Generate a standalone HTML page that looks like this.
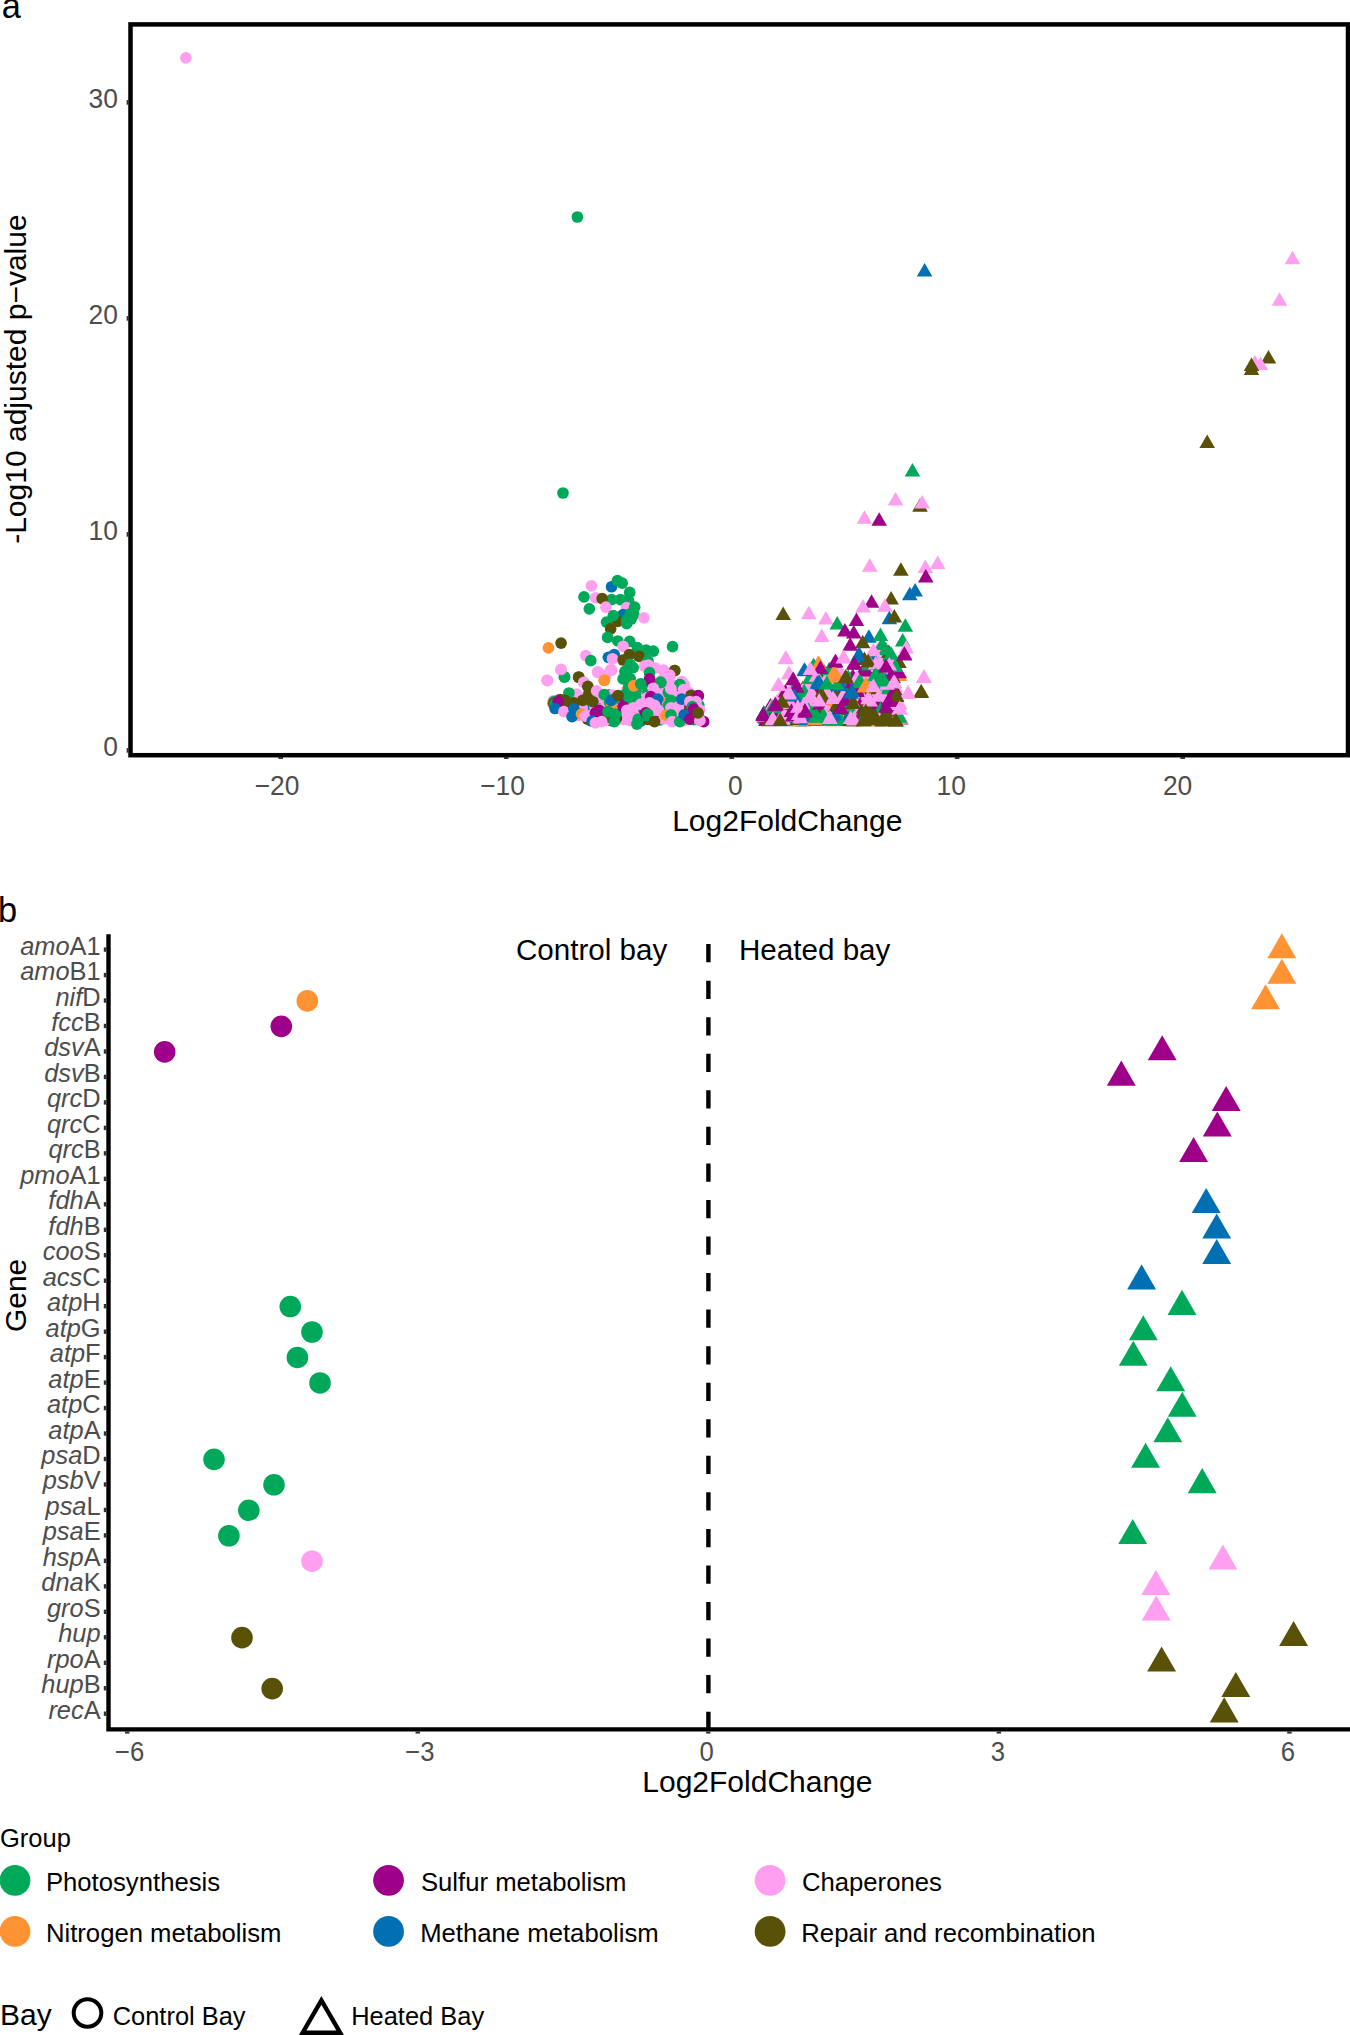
<!DOCTYPE html>
<html lang="en"><head><meta charset="utf-8"><title>Figure</title>
<style>
html,body{margin:0;padding:0;background:#fff;}
body{width:1350px;height:2035px;overflow:hidden;}
svg{display:block;font-family:"Liberation Sans",sans-serif;fill:#000;}
</style></head><body>
<svg width="1350" height="2035" viewBox="0 0 1350 2035">
<rect width="1350" height="2035" fill="#fff"/>
<g id="panel-a">
<g id="pts-a">
<circle cx="601.25" cy="718.77" r="5.85" fill="#FF9FEF"/>
<circle cx="632.85" cy="713.89" r="5.85" fill="#00A85A"/>
<circle cx="558.59" cy="704.92" r="5.85" fill="#FF9FEF"/>
<circle cx="616.25" cy="704.18" r="5.85" fill="#FF9FEF"/>
<circle cx="646.49" cy="690.21" r="5.85" fill="#FF9FEF"/>
<circle cx="698.46" cy="720.06" r="5.85" fill="#FF9FEF"/>
<circle cx="574.49" cy="712.79" r="5.85" fill="#9E0089"/>
<circle cx="579.93" cy="708.59" r="5.85" fill="#FF9FEF"/>
<circle cx="634.61" cy="719.87" r="5.85" fill="#FF9FEF"/>
<circle cx="654.38" cy="710.58" r="5.85" fill="#00A85A"/>
<circle cx="620.52" cy="712.33" r="5.85" fill="#00A85A"/>
<circle cx="589.37" cy="710.77" r="5.85" fill="#9E0089"/>
<circle cx="661.69" cy="709.19" r="5.85" fill="#FF9FEF"/>
<circle cx="615.3" cy="706.57" r="5.85" fill="#00A85A"/>
<circle cx="558.84" cy="701.57" r="5.85" fill="#00A85A"/>
<circle cx="683.45" cy="714.01" r="5.85" fill="#00A85A"/>
<circle cx="639.4" cy="704.79" r="5.85" fill="#0070B2"/>
<circle cx="623.64" cy="707.74" r="5.85" fill="#5A5108"/>
<circle cx="649.42" cy="682.22" r="5.85" fill="#FF9FEF"/>
<circle cx="610.48" cy="708.97" r="5.85" fill="#00A85A"/>
<circle cx="578.04" cy="714.19" r="5.85" fill="#5A5108"/>
<circle cx="572.27" cy="710.69" r="5.85" fill="#9E0089"/>
<circle cx="565.01" cy="706.58" r="5.85" fill="#9E0089"/>
<circle cx="675.07" cy="693.83" r="5.85" fill="#FF9FEF"/>
<circle cx="606.46" cy="697.13" r="5.85" fill="#FF9FEF"/>
<circle cx="579.26" cy="713.32" r="5.85" fill="#00A85A"/>
<circle cx="640.78" cy="715.65" r="5.85" fill="#FF9FEF"/>
<circle cx="608.02" cy="705.71" r="5.85" fill="#00A85A"/>
<circle cx="629.81" cy="708.1" r="5.85" fill="#FF9FEF"/>
<circle cx="687.03" cy="692.51" r="5.85" fill="#5A5108"/>
<circle cx="611.46" cy="714.63" r="5.85" fill="#00A85A"/>
<circle cx="562.27" cy="708.27" r="5.85" fill="#FF9FEF"/>
<circle cx="603.67" cy="720.24" r="5.85" fill="#FF9FEF"/>
<circle cx="568.12" cy="708.24" r="5.85" fill="#9E0089"/>
<circle cx="644.5" cy="717.97" r="5.85" fill="#FF9FEF"/>
<circle cx="607.26" cy="717.68" r="5.85" fill="#FF9232"/>
<circle cx="622.43" cy="712.25" r="5.85" fill="#FF9FEF"/>
<circle cx="604.05" cy="713.85" r="5.85" fill="#FF9FEF"/>
<circle cx="556.44" cy="700.42" r="5.85" fill="#FF9FEF"/>
<circle cx="633.93" cy="720.52" r="5.85" fill="#FF9232"/>
<circle cx="681.64" cy="702.17" r="5.85" fill="#FF9FEF"/>
<circle cx="577.89" cy="704.7" r="5.85" fill="#5A5108"/>
<circle cx="602.12" cy="714.98" r="5.85" fill="#FF9232"/>
<circle cx="680.04" cy="687.97" r="5.85" fill="#5A5108"/>
<circle cx="586.78" cy="711.3" r="5.85" fill="#FF9FEF"/>
<circle cx="557.16" cy="705.27" r="5.85" fill="#00A85A"/>
<circle cx="695.52" cy="711.11" r="5.85" fill="#FF9232"/>
<circle cx="695.3" cy="716.26" r="5.85" fill="#FF9FEF"/>
<circle cx="582.31" cy="714.77" r="5.85" fill="#9E0089"/>
<circle cx="678.22" cy="709.01" r="5.85" fill="#5A5108"/>
<circle cx="565.63" cy="701.95" r="5.85" fill="#5A5108"/>
<circle cx="664.77" cy="709.05" r="5.85" fill="#5A5108"/>
<circle cx="602.55" cy="699.38" r="5.85" fill="#FF9FEF"/>
<circle cx="612.81" cy="699.19" r="5.85" fill="#FF9FEF"/>
<circle cx="571.93" cy="710.38" r="5.85" fill="#9E0089"/>
<circle cx="574.78" cy="699.45" r="5.85" fill="#00A85A"/>
<circle cx="605.21" cy="711.7" r="5.85" fill="#FF9FEF"/>
<circle cx="697.66" cy="712.1" r="5.85" fill="#0070B2"/>
<circle cx="617.64" cy="696.66" r="5.85" fill="#FF9FEF"/>
<circle cx="590.52" cy="716.32" r="5.85" fill="#00A85A"/>
<circle cx="591.65" cy="714.26" r="5.85" fill="#0070B2"/>
<circle cx="605.71" cy="713.52" r="5.85" fill="#9E0089"/>
<circle cx="615.67" cy="700.61" r="5.85" fill="#00A85A"/>
<circle cx="631" cy="720.68" r="5.85" fill="#FF9FEF"/>
<circle cx="553.59" cy="701.82" r="5.85" fill="#00A85A"/>
<circle cx="661.05" cy="706.62" r="5.85" fill="#00A85A"/>
<circle cx="635.76" cy="701.73" r="5.85" fill="#00A85A"/>
<circle cx="590.03" cy="713.25" r="5.85" fill="#00A85A"/>
<circle cx="636.7" cy="694.71" r="5.85" fill="#00A85A"/>
<circle cx="644.27" cy="709.39" r="5.85" fill="#00A85A"/>
<circle cx="620.4" cy="711.39" r="5.85" fill="#0070B2"/>
<circle cx="657.18" cy="685.06" r="5.85" fill="#FF9FEF"/>
<circle cx="636.37" cy="688.48" r="5.85" fill="#FF9FEF"/>
<circle cx="571.12" cy="708.33" r="5.85" fill="#FF9FEF"/>
<circle cx="563.89" cy="701.77" r="5.85" fill="#9E0089"/>
<circle cx="576.01" cy="705.56" r="5.85" fill="#FF9FEF"/>
<circle cx="684.54" cy="688.19" r="5.85" fill="#0070B2"/>
<circle cx="612.34" cy="707.84" r="5.85" fill="#9E0089"/>
<circle cx="577.06" cy="710.11" r="5.85" fill="#FF9FEF"/>
<circle cx="582.17" cy="713.19" r="5.85" fill="#FF9FEF"/>
<circle cx="635.55" cy="711.95" r="5.85" fill="#FF9FEF"/>
<circle cx="645.97" cy="709.02" r="5.85" fill="#FF9232"/>
<circle cx="670.47" cy="685.19" r="5.85" fill="#FF9FEF"/>
<circle cx="558.9" cy="702.51" r="5.85" fill="#FF9FEF"/>
<circle cx="615.92" cy="696.1" r="5.85" fill="#FF9FEF"/>
<circle cx="575.26" cy="700.77" r="5.85" fill="#5A5108"/>
<circle cx="566.33" cy="710" r="5.85" fill="#FF9FEF"/>
<circle cx="563.79" cy="700.41" r="5.85" fill="#9E0089"/>
<circle cx="565.48" cy="702.05" r="5.85" fill="#9E0089"/>
<circle cx="620.61" cy="715.31" r="5.85" fill="#0070B2"/>
<circle cx="592.91" cy="719.1" r="5.85" fill="#FF9FEF"/>
<circle cx="569.31" cy="710.39" r="5.85" fill="#FF9FEF"/>
<circle cx="599.49" cy="712.76" r="5.85" fill="#FF9FEF"/>
<circle cx="627.51" cy="717.93" r="5.85" fill="#FF9FEF"/>
<circle cx="590.32" cy="720.49" r="5.85" fill="#00A85A"/>
<circle cx="581.23" cy="706.65" r="5.85" fill="#FF9FEF"/>
<circle cx="675.02" cy="710.39" r="5.85" fill="#9E0089"/>
<circle cx="611.57" cy="712.56" r="5.85" fill="#FF9232"/>
<circle cx="604.06" cy="704.26" r="5.85" fill="#00A85A"/>
<circle cx="613.3" cy="715.55" r="5.85" fill="#FF9FEF"/>
<circle cx="563.54" cy="703.46" r="5.85" fill="#FF9FEF"/>
<circle cx="565.59" cy="699.72" r="5.85" fill="#00A85A"/>
<circle cx="595.01" cy="717.33" r="5.85" fill="#00A85A"/>
<circle cx="576.47" cy="709.76" r="5.85" fill="#0070B2"/>
<circle cx="697.92" cy="713.93" r="5.85" fill="#0070B2"/>
<circle cx="599.12" cy="715.39" r="5.85" fill="#FF9FEF"/>
<circle cx="623.72" cy="711.7" r="5.85" fill="#00A85A"/>
<circle cx="553.74" cy="704.17" r="5.85" fill="#FF9FEF"/>
<circle cx="559.21" cy="707.23" r="5.85" fill="#FF9FEF"/>
<circle cx="640.25" cy="702.03" r="5.85" fill="#00A85A"/>
<circle cx="659.68" cy="692.92" r="5.85" fill="#FF9FEF"/>
<circle cx="699.72" cy="719.41" r="5.85" fill="#00A85A"/>
<circle cx="559.52" cy="700.13" r="5.85" fill="#00A85A"/>
<circle cx="662.34" cy="696.61" r="5.85" fill="#00A85A"/>
<circle cx="628.15" cy="694.61" r="5.85" fill="#9E0089"/>
<circle cx="640.03" cy="695.74" r="5.85" fill="#00A85A"/>
<circle cx="587.26" cy="718.98" r="5.85" fill="#FF9FEF"/>
<circle cx="568.63" cy="702.6" r="5.85" fill="#00A85A"/>
<circle cx="646.31" cy="703.67" r="5.85" fill="#FF9FEF"/>
<circle cx="671.86" cy="699.55" r="5.85" fill="#00A85A"/>
<circle cx="651.24" cy="719.6" r="5.85" fill="#FF9FEF"/>
<circle cx="564.09" cy="707.71" r="5.85" fill="#FF9FEF"/>
<circle cx="663.23" cy="684.66" r="5.85" fill="#FF9FEF"/>
<circle cx="624.37" cy="700.3" r="5.85" fill="#00A85A"/>
<circle cx="648.77" cy="719.39" r="5.85" fill="#FF9FEF"/>
<circle cx="663.74" cy="713.85" r="5.85" fill="#FF9FEF"/>
<circle cx="562.04" cy="706.99" r="5.85" fill="#00A85A"/>
<circle cx="653.68" cy="714.28" r="5.85" fill="#00A85A"/>
<circle cx="622.48" cy="717.49" r="5.85" fill="#FF9FEF"/>
<circle cx="698.74" cy="705.24" r="5.85" fill="#00A85A"/>
<circle cx="675.16" cy="685.64" r="5.85" fill="#FF9FEF"/>
<circle cx="584.27" cy="699.48" r="5.85" fill="#00A85A"/>
<circle cx="574.12" cy="704.7" r="5.85" fill="#FF9FEF"/>
<circle cx="675.21" cy="700.14" r="5.85" fill="#5A5108"/>
<circle cx="587.48" cy="701.63" r="5.85" fill="#FF9FEF"/>
<circle cx="553.53" cy="703.29" r="5.85" fill="#FF9FEF"/>
<circle cx="573.97" cy="710.25" r="5.85" fill="#9E0089"/>
<circle cx="553.26" cy="700.9" r="5.85" fill="#FF9FEF"/>
<circle cx="691.03" cy="703.19" r="5.85" fill="#FF9FEF"/>
<circle cx="608.46" cy="710.39" r="5.85" fill="#00A85A"/>
<circle cx="606.75" cy="714.09" r="5.85" fill="#FF9FEF"/>
<circle cx="568.15" cy="702.58" r="5.85" fill="#0070B2"/>
<circle cx="590.15" cy="716.65" r="5.85" fill="#FF9FEF"/>
<circle cx="608.63" cy="695.18" r="5.85" fill="#9E0089"/>
<circle cx="647" cy="686.11" r="5.85" fill="#00A85A"/>
<circle cx="660.22" cy="719.92" r="5.85" fill="#00A85A"/>
<circle cx="665.15" cy="703.62" r="5.85" fill="#FF9FEF"/>
<circle cx="691.09" cy="719.28" r="5.85" fill="#FF9FEF"/>
<circle cx="597.37" cy="701.05" r="5.85" fill="#FF9FEF"/>
<circle cx="650.74" cy="714.2" r="5.85" fill="#FF9FEF"/>
<circle cx="577.93" cy="713.66" r="5.85" fill="#9E0089"/>
<circle cx="627.06" cy="714.13" r="5.85" fill="#FF9232"/>
<circle cx="620.04" cy="718.81" r="5.85" fill="#FF9FEF"/>
<circle cx="603.95" cy="719.68" r="5.85" fill="#FF9FEF"/>
<circle cx="637.87" cy="696.59" r="5.85" fill="#FF9FEF"/>
<circle cx="614.67" cy="712.21" r="5.85" fill="#FF9FEF"/>
<circle cx="562.25" cy="705.76" r="5.85" fill="#FF9FEF"/>
<circle cx="628.01" cy="701.13" r="5.85" fill="#FF9FEF"/>
<circle cx="593.38" cy="717.23" r="5.85" fill="#00A85A"/>
<circle cx="695.14" cy="702.02" r="5.85" fill="#FF9FEF"/>
<circle cx="557.8" cy="701.2" r="5.85" fill="#00A85A"/>
<circle cx="640.49" cy="721" r="5.85" fill="#0070B2"/>
<circle cx="676.01" cy="685.93" r="5.85" fill="#FF9FEF"/>
<circle cx="569.25" cy="710.43" r="5.85" fill="#00A85A"/>
<circle cx="693.28" cy="709.32" r="5.85" fill="#5A5108"/>
<circle cx="621.14" cy="710.89" r="5.85" fill="#5A5108"/>
<circle cx="587.65" cy="700.66" r="5.85" fill="#FF9FEF"/>
<circle cx="572.07" cy="710.58" r="5.85" fill="#00A85A"/>
<circle cx="569.71" cy="711.29" r="5.85" fill="#00A85A"/>
<circle cx="610.82" cy="717.63" r="5.85" fill="#FF9FEF"/>
<circle cx="597.93" cy="708.56" r="5.85" fill="#00A85A"/>
<circle cx="684.68" cy="710" r="5.85" fill="#FF9FEF"/>
<circle cx="696.13" cy="710.58" r="5.85" fill="#FF9FEF"/>
<circle cx="627.25" cy="706.89" r="5.85" fill="#FF9FEF"/>
<circle cx="652.44" cy="690.41" r="5.85" fill="#FF9FEF"/>
<circle cx="603.37" cy="714.23" r="5.85" fill="#FF9FEF"/>
<circle cx="671.76" cy="699.94" r="5.85" fill="#FF9FEF"/>
<circle cx="697.51" cy="714.5" r="5.85" fill="#FF9FEF"/>
<circle cx="585.99" cy="705.91" r="5.85" fill="#0070B2"/>
<circle cx="626.87" cy="717.78" r="5.85" fill="#FF9FEF"/>
<circle cx="652.13" cy="688.51" r="5.85" fill="#FF9FEF"/>
<circle cx="584.73" cy="697.68" r="5.85" fill="#FF9FEF"/>
<circle cx="561.96" cy="704.5" r="5.85" fill="#9E0089"/>
<circle cx="662.18" cy="680.1" r="5.85" fill="#FF9FEF"/>
<circle cx="580.64" cy="700.05" r="5.85" fill="#FF9FEF"/>
<circle cx="652" cy="712.12" r="5.85" fill="#FF9FEF"/>
<circle cx="578.22" cy="715.47" r="5.85" fill="#FF9FEF"/>
<circle cx="695.37" cy="718.25" r="5.85" fill="#FF9FEF"/>
<circle cx="606.14" cy="698.82" r="5.85" fill="#FF9FEF"/>
<circle cx="560.34" cy="705.15" r="5.85" fill="#0070B2"/>
<circle cx="581.76" cy="709.13" r="5.85" fill="#FF9FEF"/>
<circle cx="614.21" cy="699.08" r="5.85" fill="#FF9FEF"/>
<circle cx="558.19" cy="706.39" r="5.85" fill="#FF9FEF"/>
<circle cx="664.35" cy="691.66" r="5.85" fill="#FF9FEF"/>
<circle cx="695.7" cy="712.19" r="5.85" fill="#5A5108"/>
<circle cx="600.16" cy="716.78" r="5.85" fill="#5A5108"/>
<circle cx="689.55" cy="698.86" r="5.85" fill="#FF9FEF"/>
<circle cx="587.85" cy="707.66" r="5.85" fill="#0070B2"/>
<circle cx="610.59" cy="717.18" r="5.85" fill="#00A85A"/>
<circle cx="691.29" cy="716.46" r="5.85" fill="#5A5108"/>
<circle cx="675.59" cy="698.47" r="5.85" fill="#FF9FEF"/>
<circle cx="600.61" cy="711.23" r="5.85" fill="#FF9FEF"/>
<circle cx="582.4" cy="705.66" r="5.85" fill="#FF9FEF"/>
<circle cx="558.05" cy="704.07" r="5.85" fill="#FF9232"/>
<circle cx="684.64" cy="685.46" r="5.85" fill="#FF9FEF"/>
<circle cx="567.37" cy="706.75" r="5.85" fill="#00A85A"/>
<circle cx="587.9" cy="713.4" r="5.85" fill="#00A85A"/>
<circle cx="664.45" cy="694.79" r="5.85" fill="#FF9FEF"/>
<circle cx="678.29" cy="714.13" r="5.85" fill="#FF9FEF"/>
<circle cx="662.97" cy="716.47" r="5.85" fill="#FF9FEF"/>
<circle cx="575.85" cy="701.84" r="5.85" fill="#FF9FEF"/>
<circle cx="612.01" cy="695.11" r="5.85" fill="#FF9FEF"/>
<circle cx="673.46" cy="694.21" r="5.85" fill="#FF9FEF"/>
<circle cx="623.74" cy="696.38" r="5.85" fill="#0070B2"/>
<circle cx="559.01" cy="705.82" r="5.85" fill="#FF9FEF"/>
<circle cx="697.97" cy="709.01" r="5.85" fill="#FF9FEF"/>
<circle cx="682.05" cy="710.26" r="5.85" fill="#5A5108"/>
<circle cx="693.91" cy="719.68" r="5.85" fill="#00A85A"/>
<circle cx="585.43" cy="713.47" r="5.85" fill="#FF9FEF"/>
<circle cx="590.98" cy="710.57" r="5.85" fill="#FF9FEF"/>
<circle cx="554.7" cy="704.26" r="5.85" fill="#FF9FEF"/>
<circle cx="599.52" cy="715.51" r="5.85" fill="#00A85A"/>
<circle cx="562.43" cy="708.14" r="5.85" fill="#00A85A"/>
<circle cx="648.24" cy="719.11" r="5.85" fill="#00A85A"/>
<circle cx="614.06" cy="716.65" r="5.85" fill="#0070B2"/>
<circle cx="599.54" cy="711.32" r="5.85" fill="#FF9FEF"/>
<circle cx="681.77" cy="681.57" r="5.85" fill="#FF9FEF"/>
<circle cx="661.48" cy="716.37" r="5.85" fill="#9E0089"/>
<circle cx="616.14" cy="704.42" r="5.85" fill="#9E0089"/>
<circle cx="621.68" cy="718.39" r="5.85" fill="#00A85A"/>
<circle cx="648.46" cy="692.56" r="5.85" fill="#00A85A"/>
<circle cx="608.26" cy="712.61" r="5.85" fill="#FF9FEF"/>
<circle cx="630.65" cy="696.21" r="5.85" fill="#00A85A"/>
<circle cx="672.92" cy="685.79" r="5.85" fill="#FF9FEF"/>
<circle cx="693.52" cy="700.27" r="5.85" fill="#FF9FEF"/>
<circle cx="691" cy="711.3" r="5.85" fill="#00A85A"/>
<circle cx="675.86" cy="714.43" r="5.85" fill="#FF9FEF"/>
<circle cx="613.27" cy="698.15" r="5.85" fill="#FF9FEF"/>
<circle cx="585.5" cy="713" r="5.85" fill="#FF9FEF"/>
<circle cx="571.34" cy="710.37" r="5.85" fill="#9E0089"/>
<circle cx="559.12" cy="702.48" r="5.85" fill="#FF9FEF"/>
<circle cx="677.89" cy="718.39" r="5.85" fill="#00A85A"/>
<circle cx="646.43" cy="714.33" r="5.85" fill="#00A85A"/>
<circle cx="616.44" cy="708.99" r="5.85" fill="#FF9FEF"/>
<circle cx="556.48" cy="703.34" r="5.85" fill="#FF9FEF"/>
<circle cx="666.77" cy="698.14" r="5.85" fill="#FF9FEF"/>
<circle cx="623.51" cy="719.27" r="5.85" fill="#FF9FEF"/>
<circle cx="566.67" cy="707.1" r="5.85" fill="#FF9FEF"/>
<circle cx="647.83" cy="719.3" r="5.85" fill="#5A5108"/>
<circle cx="629.21" cy="720.08" r="5.85" fill="#FF9FEF"/>
<circle cx="694.68" cy="717.91" r="5.85" fill="#FF9232"/>
<circle cx="662.08" cy="696.47" r="5.85" fill="#FF9232"/>
<circle cx="626.29" cy="691.39" r="5.85" fill="#FF9FEF"/>
<circle cx="670.47" cy="689.29" r="5.85" fill="#FF9FEF"/>
<circle cx="665.67" cy="714.49" r="5.85" fill="#FF9FEF"/>
<circle cx="674.53" cy="717.79" r="5.85" fill="#0070B2"/>
<circle cx="584.04" cy="714.59" r="5.85" fill="#FF9FEF"/>
<circle cx="558.49" cy="706.2" r="5.85" fill="#0070B2"/>
<circle cx="654.27" cy="692.05" r="5.85" fill="#5A5108"/>
<circle cx="570.15" cy="707.09" r="5.85" fill="#FF9FEF"/>
<circle cx="683.07" cy="707.35" r="5.85" fill="#9E0089"/>
<circle cx="568.59" cy="697.86" r="5.85" fill="#FF9FEF"/>
<circle cx="671.85" cy="710.15" r="5.85" fill="#00A85A"/>
<circle cx="606.68" cy="706.4" r="5.85" fill="#FF9FEF"/>
<circle cx="663.8" cy="719.02" r="5.85" fill="#FF9FEF"/>
<circle cx="648.25" cy="685.55" r="5.85" fill="#00A85A"/>
<circle cx="599.58" cy="720.97" r="5.85" fill="#FF9FEF"/>
<circle cx="644.79" cy="711.31" r="5.85" fill="#9E0089"/>
<circle cx="572.67" cy="711.03" r="5.85" fill="#FF9FEF"/>
<circle cx="553.39" cy="703.75" r="5.85" fill="#FF9FEF"/>
<circle cx="586.41" cy="709.95" r="5.85" fill="#FF9FEF"/>
<circle cx="645.97" cy="710.06" r="5.85" fill="#0070B2"/>
<circle cx="589.29" cy="718.14" r="5.85" fill="#00A85A"/>
<circle cx="682.82" cy="699.05" r="5.85" fill="#FF9FEF"/>
<circle cx="554.71" cy="702.85" r="5.85" fill="#FF9FEF"/>
<circle cx="649.2" cy="703.71" r="5.85" fill="#5A5108"/>
<circle cx="590.03" cy="701.42" r="5.85" fill="#00A85A"/>
<circle cx="613.49" cy="717.4" r="5.85" fill="#5A5108"/>
<circle cx="554.84" cy="702.11" r="5.85" fill="#FF9FEF"/>
<circle cx="582.73" cy="708.71" r="5.85" fill="#00A85A"/>
<circle cx="674.19" cy="717.06" r="5.85" fill="#FF9FEF"/>
<circle cx="560.23" cy="699.59" r="5.85" fill="#5A5108"/>
<circle cx="553.95" cy="701.54" r="5.85" fill="#00A85A"/>
<circle cx="663.52" cy="709.8" r="5.85" fill="#FF9FEF"/>
<circle cx="587.61" cy="719.03" r="5.85" fill="#5A5108"/>
<circle cx="656.57" cy="694.88" r="5.85" fill="#FF9FEF"/>
<circle cx="635.51" cy="706.1" r="5.85" fill="#00A85A"/>
<circle cx="592.53" cy="703.67" r="5.85" fill="#FF9FEF"/>
<circle cx="684.13" cy="720.69" r="5.85" fill="#FF9FEF"/>
<circle cx="663.84" cy="688.07" r="5.85" fill="#FF9FEF"/>
<circle cx="684.14" cy="713.73" r="5.85" fill="#9E0089"/>
<circle cx="646.97" cy="703.12" r="5.85" fill="#FF9232"/>
<circle cx="622.95" cy="702.25" r="5.85" fill="#9E0089"/>
<circle cx="618.14" cy="706.98" r="5.85" fill="#FF9FEF"/>
<circle cx="584.58" cy="708.8" r="5.85" fill="#0070B2"/>
<circle cx="574.54" cy="713.68" r="5.85" fill="#0070B2"/>
<circle cx="604.38" cy="718.91" r="5.85" fill="#FF9FEF"/>
<circle cx="656.2" cy="704" r="5.85" fill="#5A5108"/>
<circle cx="562.8" cy="704.83" r="5.85" fill="#9E0089"/>
<circle cx="675.11" cy="692.14" r="5.85" fill="#9E0089"/>
<circle cx="689.25" cy="692.83" r="5.85" fill="#FF9FEF"/>
<circle cx="569.68" cy="711.33" r="5.85" fill="#9E0089"/>
<circle cx="647.49" cy="697.56" r="5.85" fill="#FF9FEF"/>
<circle cx="567.88" cy="709.73" r="5.85" fill="#FF9FEF"/>
<circle cx="600.55" cy="714.17" r="5.85" fill="#FF9FEF"/>
<circle cx="595.11" cy="707.76" r="5.85" fill="#FF9FEF"/>
<circle cx="696.64" cy="710.21" r="5.85" fill="#00A85A"/>
<circle cx="557.62" cy="704.76" r="5.85" fill="#5A5108"/>
<circle cx="604.67" cy="708.06" r="5.85" fill="#FF9FEF"/>
<circle cx="681.47" cy="717.36" r="5.85" fill="#FF9FEF"/>
<circle cx="553.19" cy="703.71" r="5.85" fill="#FF9232"/>
<circle cx="553.65" cy="703.32" r="5.85" fill="#5A5108"/>
<circle cx="580.49" cy="710.12" r="5.85" fill="#9E0089"/>
<circle cx="591.83" cy="699.37" r="5.85" fill="#FF9FEF"/>
<circle cx="657.22" cy="708.44" r="5.85" fill="#00A85A"/>
<circle cx="565.05" cy="703.05" r="5.85" fill="#5A5108"/>
<circle cx="646.56" cy="713.12" r="5.85" fill="#FF9FEF"/>
<circle cx="685.67" cy="717.78" r="5.85" fill="#FF9FEF"/>
<circle cx="583.71" cy="711.86" r="5.85" fill="#00A85A"/>
<circle cx="609.52" cy="702.31" r="5.85" fill="#00A85A"/>
<circle cx="632.2" cy="696.09" r="5.85" fill="#00A85A"/>
<circle cx="604.92" cy="715.91" r="5.85" fill="#9E0089"/>
<circle cx="651.65" cy="700.42" r="5.85" fill="#FF9FEF"/>
<circle cx="668.24" cy="705.88" r="5.85" fill="#00A85A"/>
<circle cx="684.88" cy="715.95" r="5.85" fill="#FF9FEF"/>
<circle cx="657.77" cy="694.97" r="5.85" fill="#FF9FEF"/>
<circle cx="589.89" cy="715.55" r="5.85" fill="#FF9FEF"/>
<circle cx="601.88" cy="715.89" r="5.85" fill="#5A5108"/>
<circle cx="568.17" cy="699.5" r="5.85" fill="#FF9FEF"/>
<circle cx="699.59" cy="709.78" r="5.85" fill="#FF9FEF"/>
<circle cx="582.23" cy="708.05" r="5.85" fill="#FF9FEF"/>
<circle cx="610.86" cy="720.51" r="5.85" fill="#5A5108"/>
<circle cx="656.32" cy="708.38" r="5.85" fill="#00A85A"/>
<circle cx="574.13" cy="707.03" r="5.85" fill="#5A5108"/>
<circle cx="688.29" cy="711.81" r="5.85" fill="#5A5108"/>
<circle cx="615.75" cy="717.52" r="5.85" fill="#9E0089"/>
<circle cx="668.33" cy="692.3" r="5.85" fill="#00A85A"/>
<circle cx="648.59" cy="710.38" r="5.85" fill="#00A85A"/>
<circle cx="567.58" cy="705.28" r="5.85" fill="#5A5108"/>
<circle cx="646.81" cy="715.63" r="5.85" fill="#00A85A"/>
<circle cx="645.61" cy="711.83" r="5.85" fill="#0070B2"/>
<circle cx="580.28" cy="702.76" r="5.85" fill="#FF9FEF"/>
<circle cx="625.99" cy="693.77" r="5.85" fill="#00A85A"/>
<circle cx="576.97" cy="700.19" r="5.85" fill="#00A85A"/>
<circle cx="568.06" cy="706.12" r="5.85" fill="#5A5108"/>
<circle cx="629.32" cy="700.54" r="5.85" fill="#00A85A"/>
<circle cx="614.14" cy="699.12" r="5.85" fill="#00A85A"/>
<circle cx="611.48" cy="706.46" r="5.85" fill="#FF9232"/>
<circle cx="605.97" cy="720.19" r="5.85" fill="#FF9FEF"/>
<circle cx="554.98" cy="703.98" r="5.85" fill="#00A85A"/>
<circle cx="605.47" cy="716.95" r="5.85" fill="#5A5108"/>
<circle cx="693.05" cy="713.23" r="5.85" fill="#9E0089"/>
<circle cx="611.4" cy="717.82" r="5.85" fill="#5A5108"/>
<circle cx="673.63" cy="703.98" r="5.85" fill="#00A85A"/>
<circle cx="586.67" cy="698.28" r="5.85" fill="#00A85A"/>
<circle cx="674.99" cy="696.41" r="5.85" fill="#FF9FEF"/>
<circle cx="634.69" cy="716.76" r="5.85" fill="#FF9FEF"/>
<circle cx="679.75" cy="714.8" r="5.85" fill="#FF9FEF"/>
<circle cx="616.49" cy="718.18" r="5.85" fill="#5A5108"/>
<circle cx="594.9" cy="717.28" r="5.85" fill="#00A85A"/>
<circle cx="611.56" cy="586.76" r="5.85" fill="#0070B2"/>
<circle cx="617.42" cy="580.53" r="5.85" fill="#00A85A"/>
<circle cx="622.22" cy="583.2" r="5.85" fill="#00A85A"/>
<circle cx="591.47" cy="585.87" r="5.85" fill="#FF9FEF"/>
<circle cx="629.69" cy="592.44" r="5.85" fill="#00A85A"/>
<circle cx="584" cy="596.89" r="5.85" fill="#00A85A"/>
<circle cx="595.56" cy="597.78" r="5.85" fill="#FF9FEF"/>
<circle cx="611.56" cy="599.56" r="5.85" fill="#00A85A"/>
<circle cx="620.44" cy="599.56" r="5.85" fill="#00A85A"/>
<circle cx="628.44" cy="600.44" r="5.85" fill="#00A85A"/>
<circle cx="602.13" cy="598.67" r="5.85" fill="#5A5108"/>
<circle cx="605.87" cy="607.2" r="5.85" fill="#FF9FEF"/>
<circle cx="589.33" cy="608.8" r="5.85" fill="#00A85A"/>
<circle cx="626.67" cy="607.56" r="5.85" fill="#FF9FEF"/>
<circle cx="634.67" cy="607.2" r="5.85" fill="#00A85A"/>
<circle cx="623.11" cy="614.67" r="5.85" fill="#0070B2"/>
<circle cx="617.78" cy="621.42" r="5.85" fill="#5A5108"/>
<circle cx="613.33" cy="615.56" r="5.85" fill="#00A85A"/>
<circle cx="630.22" cy="613.78" r="5.85" fill="#00A85A"/>
<circle cx="633.78" cy="614.67" r="5.85" fill="#00A85A"/>
<circle cx="643.91" cy="617.87" r="5.85" fill="#FF9FEF"/>
<circle cx="606.58" cy="622.13" r="5.85" fill="#00A85A"/>
<circle cx="626.67" cy="620" r="5.85" fill="#00A85A"/>
<circle cx="626.67" cy="623.56" r="5.85" fill="#00A85A"/>
<circle cx="631.11" cy="619.11" r="5.85" fill="#00A85A"/>
<circle cx="610.67" cy="628.89" r="5.85" fill="#5A5108"/>
<circle cx="607.64" cy="637.42" r="5.85" fill="#00A85A"/>
<circle cx="617.78" cy="640.98" r="5.85" fill="#00A85A"/>
<circle cx="629.69" cy="641.33" r="5.85" fill="#00A85A"/>
<circle cx="623.11" cy="646.31" r="5.85" fill="#FF9FEF"/>
<circle cx="637.33" cy="647.56" r="5.85" fill="#00A85A"/>
<circle cx="646.22" cy="650.22" r="5.85" fill="#00A85A"/>
<circle cx="653.33" cy="651.11" r="5.85" fill="#00A85A"/>
<circle cx="672.53" cy="646.67" r="5.85" fill="#00A85A"/>
<circle cx="548.44" cy="647.91" r="5.85" fill="#FF9232"/>
<circle cx="561.07" cy="643.11" r="5.85" fill="#5A5108"/>
<circle cx="585.78" cy="655.56" r="5.85" fill="#FF9FEF"/>
<circle cx="590.76" cy="660.53" r="5.85" fill="#00A85A"/>
<circle cx="608.36" cy="657.33" r="5.85" fill="#0070B2"/>
<circle cx="614.22" cy="654.67" r="5.85" fill="#0070B2"/>
<circle cx="612.44" cy="658.76" r="5.85" fill="#FF9FEF"/>
<circle cx="629.33" cy="654.67" r="5.85" fill="#5A5108"/>
<circle cx="623.11" cy="660" r="5.85" fill="#5A5108"/>
<circle cx="639.11" cy="656.44" r="5.85" fill="#5A5108"/>
<circle cx="648" cy="660.89" r="5.85" fill="#00A85A"/>
<circle cx="630.22" cy="664.44" r="5.85" fill="#00A85A"/>
<circle cx="624.89" cy="671.56" r="5.85" fill="#00A85A"/>
<circle cx="626.67" cy="676.89" r="5.85" fill="#00A85A"/>
<circle cx="560.89" cy="669.78" r="5.85" fill="#FF9FEF"/>
<circle cx="547.02" cy="680.44" r="5.85" fill="#FF9FEF"/>
<circle cx="564.44" cy="676.89" r="5.85" fill="#00A85A"/>
<circle cx="578.67" cy="677.24" r="5.85" fill="#5A5108"/>
<circle cx="583.64" cy="682.22" r="5.85" fill="#FF9FEF"/>
<circle cx="597.69" cy="672.44" r="5.85" fill="#FF9FEF"/>
<circle cx="610.67" cy="669.78" r="5.85" fill="#FF9FEF"/>
<circle cx="605.33" cy="675.11" r="5.85" fill="#FF9FEF"/>
<circle cx="604.27" cy="680.44" r="5.85" fill="#FF9232"/>
<circle cx="630.22" cy="678.67" r="5.85" fill="#00A85A"/>
<circle cx="628.44" cy="687.56" r="5.85" fill="#00A85A"/>
<circle cx="633.78" cy="685.78" r="5.85" fill="#FF9232"/>
<circle cx="640.89" cy="684" r="5.85" fill="#00A85A"/>
<circle cx="635.56" cy="692.89" r="5.85" fill="#00A85A"/>
<circle cx="644.44" cy="666.22" r="5.85" fill="#FF9FEF"/>
<circle cx="655.11" cy="668" r="5.85" fill="#FF9FEF"/>
<circle cx="664" cy="671.56" r="5.85" fill="#FF9FEF"/>
<circle cx="674.67" cy="670.67" r="5.85" fill="#5A5108"/>
<circle cx="670.22" cy="676" r="5.85" fill="#FF9FEF"/>
<circle cx="649.78" cy="680.44" r="5.85" fill="#9E0089"/>
<circle cx="660.44" cy="682.22" r="5.85" fill="#00A85A"/>
<circle cx="680" cy="684.89" r="5.85" fill="#00A85A"/>
<circle cx="653.33" cy="688.44" r="5.85" fill="#FF9FEF"/>
<circle cx="671.11" cy="688.44" r="5.85" fill="#FF9FEF"/>
<circle cx="683.56" cy="689.33" r="5.85" fill="#FF9FEF"/>
<circle cx="687.11" cy="692" r="5.85" fill="#FF9FEF"/>
<circle cx="698.31" cy="695.56" r="5.85" fill="#9E0089"/>
<circle cx="547.52" cy="680.53" r="5.85" fill="#FF9FEF"/>
<circle cx="564.52" cy="677" r="5.85" fill="#00A85A"/>
<circle cx="561.12" cy="669.45" r="5.85" fill="#FF9FEF"/>
<circle cx="578.75" cy="677" r="5.85" fill="#5A5108"/>
<circle cx="583.79" cy="682.42" r="5.85" fill="#FF9FEF"/>
<circle cx="597.9" cy="671.96" r="5.85" fill="#FF9FEF"/>
<circle cx="611.75" cy="670.08" r="5.85" fill="#FF9FEF"/>
<circle cx="605.45" cy="676.37" r="5.85" fill="#FF9FEF"/>
<circle cx="604.45" cy="680.15" r="5.85" fill="#FF9232"/>
<circle cx="625.6" cy="671.34" r="5.85" fill="#00A85A"/>
<circle cx="633.16" cy="667.56" r="5.85" fill="#00A85A"/>
<circle cx="623.09" cy="678.89" r="5.85" fill="#00A85A"/>
<circle cx="630.64" cy="692.75" r="5.85" fill="#00A85A"/>
<circle cx="635.68" cy="697.78" r="5.85" fill="#00A85A"/>
<circle cx="648.27" cy="665.04" r="5.85" fill="#FF9FEF"/>
<circle cx="663.39" cy="670.08" r="5.85" fill="#FF9FEF"/>
<circle cx="674.72" cy="670.71" r="5.85" fill="#5A5108"/>
<circle cx="669.69" cy="675.11" r="5.85" fill="#FF9FEF"/>
<circle cx="649.53" cy="672.59" r="5.85" fill="#00A85A"/>
<circle cx="649.53" cy="678.89" r="5.85" fill="#9E0089"/>
<circle cx="633.79" cy="685.82" r="5.85" fill="#FF9232"/>
<circle cx="640.72" cy="683.93" r="5.85" fill="#00A85A"/>
<circle cx="660.87" cy="682.67" r="5.85" fill="#00A85A"/>
<circle cx="679.76" cy="684.56" r="5.85" fill="#00A85A"/>
<circle cx="653.31" cy="688.34" r="5.85" fill="#FF9FEF"/>
<circle cx="670.94" cy="688.97" r="5.85" fill="#FF9FEF"/>
<circle cx="683.54" cy="689.6" r="5.85" fill="#FF9FEF"/>
<circle cx="686.06" cy="692.75" r="5.85" fill="#FF9FEF"/>
<circle cx="691.1" cy="695.26" r="5.85" fill="#5A5108"/>
<circle cx="698.02" cy="695.89" r="5.85" fill="#9E0089"/>
<circle cx="576.49" cy="694.01" r="5.85" fill="#FF9FEF"/>
<circle cx="568.93" cy="693" r="5.85" fill="#00A85A"/>
<circle cx="565.15" cy="700.3" r="5.85" fill="#5A5108"/>
<circle cx="573.97" cy="702.82" r="5.85" fill="#5A5108"/>
<circle cx="582.78" cy="700.3" r="5.85" fill="#5A5108"/>
<circle cx="589.08" cy="692.75" r="5.85" fill="#5A5108"/>
<circle cx="592.86" cy="701.56" r="5.85" fill="#5A5108"/>
<circle cx="587.82" cy="686.45" r="5.85" fill="#5A5108"/>
<circle cx="596.64" cy="690.86" r="5.85" fill="#FF9FEF"/>
<circle cx="604.19" cy="694.63" r="5.85" fill="#00A85A"/>
<circle cx="611.12" cy="700.3" r="5.85" fill="#0070B2"/>
<circle cx="618.05" cy="695.52" r="5.85" fill="#5A5108"/>
<circle cx="558.22" cy="701.56" r="5.85" fill="#9E0089"/>
<circle cx="555.08" cy="708.49" r="5.85" fill="#0070B2"/>
<circle cx="563.89" cy="711.64" r="5.85" fill="#FF9FEF"/>
<circle cx="573.97" cy="709.12" r="5.85" fill="#0070B2"/>
<circle cx="572.08" cy="716.68" r="5.85" fill="#0070B2"/>
<circle cx="581.52" cy="714.16" r="5.85" fill="#FF9232"/>
<circle cx="585.3" cy="716.05" r="5.85" fill="#FF9FEF"/>
<circle cx="595.38" cy="712.9" r="5.85" fill="#9E0089"/>
<circle cx="599.16" cy="710.38" r="5.85" fill="#9E0089"/>
<circle cx="592.23" cy="721.08" r="5.85" fill="#0070B2"/>
<circle cx="595.38" cy="722.97" r="5.85" fill="#FF9FEF"/>
<circle cx="601.68" cy="721.71" r="5.85" fill="#FF9FEF"/>
<circle cx="607.97" cy="711.64" r="5.85" fill="#00A85A"/>
<circle cx="615.53" cy="714.16" r="5.85" fill="#00A85A"/>
<circle cx="614.27" cy="721.71" r="5.85" fill="#00A85A"/>
<circle cx="623.09" cy="706.6" r="5.85" fill="#9E0089"/>
<circle cx="626.86" cy="710.38" r="5.85" fill="#FF9FEF"/>
<circle cx="628.12" cy="717.93" r="5.85" fill="#FF9FEF"/>
<circle cx="633.16" cy="707.86" r="5.85" fill="#FF9FEF"/>
<circle cx="640.72" cy="704.08" r="5.85" fill="#FF9FEF"/>
<circle cx="638.2" cy="719.19" r="5.85" fill="#00A85A"/>
<circle cx="636.94" cy="724.23" r="5.85" fill="#00A85A"/>
<circle cx="650.79" cy="696.52" r="5.85" fill="#9E0089"/>
<circle cx="657.72" cy="699.04" r="5.85" fill="#0070B2"/>
<circle cx="649.53" cy="702.82" r="5.85" fill="#FF9FEF"/>
<circle cx="654.57" cy="705.34" r="5.85" fill="#FF9FEF"/>
<circle cx="658.35" cy="710.38" r="5.85" fill="#FF9FEF"/>
<circle cx="645.76" cy="712.9" r="5.85" fill="#9E0089"/>
<circle cx="647.64" cy="714.16" r="5.85" fill="#00A85A"/>
<circle cx="654.57" cy="721.71" r="5.85" fill="#5A5108"/>
<circle cx="670.94" cy="700.3" r="5.85" fill="#00A85A"/>
<circle cx="670.94" cy="707.86" r="5.85" fill="#FF9FEF"/>
<circle cx="678.5" cy="706.6" r="5.85" fill="#FF9FEF"/>
<circle cx="665.91" cy="715.42" r="5.85" fill="#FF9232"/>
<circle cx="670.94" cy="714.79" r="5.85" fill="#00A85A"/>
<circle cx="672.2" cy="721.71" r="5.85" fill="#FF9FEF"/>
<circle cx="679.76" cy="721.71" r="5.85" fill="#00A85A"/>
<circle cx="681.65" cy="699.04" r="5.85" fill="#0070B2"/>
<circle cx="684.17" cy="714.79" r="5.85" fill="#0070B2"/>
<circle cx="689.84" cy="701.56" r="5.85" fill="#FF9FEF"/>
<circle cx="696.13" cy="701.56" r="5.85" fill="#FF9FEF"/>
<circle cx="692.36" cy="706.6" r="5.85" fill="#00A85A"/>
<circle cx="693.61" cy="709.12" r="5.85" fill="#9E0089"/>
<circle cx="689.84" cy="719.19" r="5.85" fill="#9E0089"/>
<circle cx="703.69" cy="721.71" r="5.85" fill="#9E0089"/>
<circle cx="699.91" cy="720.45" r="5.85" fill="#FF9FEF"/>
<circle cx="698.02" cy="712.9" r="5.85" fill="#5A5108"/>
<path d="M823.27 681.6L831.07 695.1L815.48 695.1Z" fill="#0070B2"/>
<path d="M882.7 708.6L890.49 722.1L874.9 722.1Z" fill="#9E0089"/>
<path d="M783.09 712.78L790.88 726.28L775.29 726.28Z" fill="#0070B2"/>
<path d="M855.01 712.33L862.8 725.83L847.21 725.83Z" fill="#9E0089"/>
<path d="M811.83 706.05L819.62 719.55L804.03 719.55Z" fill="#FF9FEF"/>
<path d="M887.81 666.76L895.61 680.26L880.02 680.26Z" fill="#0070B2"/>
<path d="M873.44 671.07L881.23 684.57L865.64 684.57Z" fill="#5A5108"/>
<path d="M867 683.39L874.79 696.89L859.2 696.89Z" fill="#FF9FEF"/>
<path d="M796.17 711.87L803.96 725.37L788.37 725.37Z" fill="#FF9FEF"/>
<path d="M832.05 697.46L839.84 710.96L824.25 710.96Z" fill="#FF9FEF"/>
<path d="M880.79 693.11L888.58 706.61L872.99 706.61Z" fill="#9E0089"/>
<path d="M815.81 711.53L823.6 725.03L808.01 725.03Z" fill="#5A5108"/>
<path d="M767.48 703.06L775.27 716.56L759.69 716.56Z" fill="#FF9FEF"/>
<path d="M863.69 687.32L871.48 700.82L855.89 700.82Z" fill="#00A85A"/>
<path d="M829.7 685.67L837.49 699.17L821.9 699.17Z" fill="#00A85A"/>
<path d="M822.42 685.87L830.22 699.37L814.63 699.37Z" fill="#9E0089"/>
<path d="M819.82 698.75L827.61 712.25L812.03 712.25Z" fill="#FF9232"/>
<path d="M854.81 679.07L862.61 692.57L847.02 692.57Z" fill="#FF9FEF"/>
<path d="M845.31 711.35L853.1 724.85L837.52 724.85Z" fill="#0070B2"/>
<path d="M839.58 712.42L847.38 725.92L831.79 725.92Z" fill="#0070B2"/>
<path d="M848.41 673.74L856.21 687.24L840.62 687.24Z" fill="#5A5108"/>
<path d="M849.53 675.3L857.32 688.8L841.74 688.8Z" fill="#5A5108"/>
<path d="M793.14 697.37L800.94 710.87L785.35 710.87Z" fill="#FF9FEF"/>
<path d="M788.79 711.52L796.59 725.02L781 725.02Z" fill="#5A5108"/>
<path d="M814.96 675.36L822.75 688.86L807.16 688.86Z" fill="#FF9FEF"/>
<path d="M805.63 702.82L813.43 716.32L797.84 716.32Z" fill="#5A5108"/>
<path d="M893.77 712.56L901.57 726.06L885.98 726.06Z" fill="#9E0089"/>
<path d="M843.76 712.03L851.55 725.53L835.96 725.53Z" fill="#5A5108"/>
<path d="M894.31 658.8L902.11 672.3L886.52 672.3Z" fill="#FF9FEF"/>
<path d="M853.41 712.79L861.2 726.29L845.61 726.29Z" fill="#5A5108"/>
<path d="M780.47 689.14L788.27 702.64L772.68 702.64Z" fill="#FF9FEF"/>
<path d="M765.98 705.99L773.77 719.49L758.19 719.49Z" fill="#FF9FEF"/>
<path d="M770.49 698.1L778.29 711.6L762.7 711.6Z" fill="#9E0089"/>
<path d="M775.26 697.86L783.05 711.36L767.46 711.36Z" fill="#0070B2"/>
<path d="M798.94 712.77L806.73 726.27L791.15 726.27Z" fill="#5A5108"/>
<path d="M877.52 709.9L885.31 723.4L869.73 723.4Z" fill="#FF9FEF"/>
<path d="M883.6 691.85L891.4 705.35L875.81 705.35Z" fill="#5A5108"/>
<path d="M824.7 691.42L832.5 704.92L816.91 704.92Z" fill="#00A85A"/>
<path d="M853.46 688.74L861.26 702.24L845.67 702.24Z" fill="#9E0089"/>
<path d="M895.32 679.02L903.11 692.52L887.52 692.52Z" fill="#FF9FEF"/>
<path d="M899.37 667.53L907.16 681.03L891.57 681.03Z" fill="#FF9232"/>
<path d="M879.46 686.19L887.26 699.69L871.67 699.69Z" fill="#0070B2"/>
<path d="M816.05 681.32L823.84 694.82L808.25 694.82Z" fill="#9E0089"/>
<path d="M803.02 712.77L810.82 726.27L795.23 726.27Z" fill="#5A5108"/>
<path d="M877.33 665.4L885.12 678.9L869.54 678.9Z" fill="#9E0089"/>
<path d="M884.48 687.11L892.27 700.61L876.68 700.61Z" fill="#9E0089"/>
<path d="M859.01 711.69L866.8 725.19L851.21 725.19Z" fill="#9E0089"/>
<path d="M791.46 685.95L799.25 699.45L783.67 699.45Z" fill="#5A5108"/>
<path d="M858.03 695.77L865.83 709.27L850.24 709.27Z" fill="#9E0089"/>
<path d="M873.94 694.27L881.73 707.77L866.14 707.77Z" fill="#9E0089"/>
<path d="M795.98 690.97L803.78 704.47L788.19 704.47Z" fill="#00A85A"/>
<path d="M829.98 694.22L837.78 707.72L822.19 707.72Z" fill="#FF9FEF"/>
<path d="M861.3 699.75L869.09 713.25L853.5 713.25Z" fill="#00A85A"/>
<path d="M784.29 711.34L792.08 724.84L776.49 724.84Z" fill="#FF9FEF"/>
<path d="M851.77 680.06L859.56 693.56L843.97 693.56Z" fill="#00A85A"/>
<path d="M835.96 712.24L843.76 725.74L828.17 725.74Z" fill="#9E0089"/>
<path d="M831.34 694.91L839.14 708.41L823.55 708.41Z" fill="#00A85A"/>
<path d="M895.54 664.39L903.33 677.89L887.74 677.89Z" fill="#FF9FEF"/>
<path d="M768.78 712.7L776.58 726.2L760.99 726.2Z" fill="#5A5108"/>
<path d="M884.96 678.66L892.75 692.16L877.16 692.16Z" fill="#FF9FEF"/>
<path d="M846.93 699.66L854.72 713.16L839.14 713.16Z" fill="#FF9FEF"/>
<path d="M842.24 676.4L850.04 689.9L834.45 689.9Z" fill="#00A85A"/>
<path d="M826.04 704.8L833.84 718.3L818.25 718.3Z" fill="#FF9FEF"/>
<path d="M768.89 710.41L776.68 723.91L761.09 723.91Z" fill="#0070B2"/>
<path d="M880.29 709.39L888.09 722.89L872.5 722.89Z" fill="#5A5108"/>
<path d="M900.97 710.96L908.76 724.46L893.17 724.46Z" fill="#5A5108"/>
<path d="M805.18 712.15L812.98 725.65L797.39 725.65Z" fill="#FF9FEF"/>
<path d="M780.82 704.6L788.61 718.1L773.02 718.1Z" fill="#FF9FEF"/>
<path d="M858.03 712L865.83 725.5L850.24 725.5Z" fill="#FF9FEF"/>
<path d="M892.91 699.07L900.71 712.57L885.12 712.57Z" fill="#0070B2"/>
<path d="M783 704.72L790.79 718.22L775.2 718.22Z" fill="#9E0089"/>
<path d="M851.16 697.07L858.95 710.57L843.36 710.57Z" fill="#00A85A"/>
<path d="M851.13 711.37L858.93 724.87L843.34 724.87Z" fill="#5A5108"/>
<path d="M783.69 692.19L791.48 705.69L775.89 705.69Z" fill="#FF9FEF"/>
<path d="M801.32 711.82L809.11 725.32L793.53 725.32Z" fill="#FF9FEF"/>
<path d="M889.49 711.01L897.29 724.51L881.7 724.51Z" fill="#5A5108"/>
<path d="M792.96 702.71L800.75 716.21L785.16 716.21Z" fill="#FF9FEF"/>
<path d="M814.32 667.96L822.11 681.46L806.52 681.46Z" fill="#FF9FEF"/>
<path d="M803.88 685.06L811.67 698.56L796.08 698.56Z" fill="#FF9FEF"/>
<path d="M763.77 705.56L771.56 719.06L755.97 719.06Z" fill="#00A85A"/>
<path d="M890.72 712.44L898.52 725.94L882.93 725.94Z" fill="#9E0089"/>
<path d="M862.77 711.58L870.56 725.08L854.98 725.08Z" fill="#00A85A"/>
<path d="M801.71 704.55L809.5 718.05L793.91 718.05Z" fill="#9E0089"/>
<path d="M844.82 706.62L852.61 720.12L837.02 720.12Z" fill="#00A85A"/>
<path d="M864.17 709.15L871.97 722.65L856.38 722.65Z" fill="#9E0089"/>
<path d="M884.1 691.45L891.89 704.95L876.3 704.95Z" fill="#00A85A"/>
<path d="M885.15 702.11L892.94 715.61L877.35 715.61Z" fill="#00A85A"/>
<path d="M786.31 711.76L794.1 725.26L778.51 725.26Z" fill="#00A85A"/>
<path d="M835.43 706.28L843.22 719.78L827.64 719.78Z" fill="#9E0089"/>
<path d="M808.28 693.02L816.07 706.52L800.48 706.52Z" fill="#FF9FEF"/>
<path d="M885.26 654.18L893.05 667.68L877.46 667.68Z" fill="#5A5108"/>
<path d="M838.46 711.66L846.25 725.16L830.66 725.16Z" fill="#FF9FEF"/>
<path d="M777.82 712.61L785.62 726.11L770.03 726.11Z" fill="#9E0089"/>
<path d="M790.71 712.48L798.51 725.98L782.92 725.98Z" fill="#00A85A"/>
<path d="M861.52 706.14L869.31 719.64L853.72 719.64Z" fill="#FF9FEF"/>
<path d="M780.67 704.39L788.46 717.89L772.87 717.89Z" fill="#FF9FEF"/>
<path d="M820.09 709.42L827.88 722.92L812.29 722.92Z" fill="#FF9FEF"/>
<path d="M843.41 684.35L851.21 697.85L835.62 697.85Z" fill="#0070B2"/>
<path d="M817.73 693.18L825.52 706.68L809.94 706.68Z" fill="#00A85A"/>
<path d="M894.81 679.63L902.6 693.13L887.02 693.13Z" fill="#FF9FEF"/>
<path d="M824.26 664.36L832.06 677.86L816.47 677.86Z" fill="#9E0089"/>
<path d="M881.74 710.81L889.54 724.31L873.95 724.31Z" fill="#0070B2"/>
<path d="M798.28 696.5L806.07 710L790.48 710Z" fill="#5A5108"/>
<path d="M773.16 712.52L780.96 726.02L765.37 726.02Z" fill="#0070B2"/>
<path d="M871.83 648.09L879.63 661.59L864.04 661.59Z" fill="#0070B2"/>
<path d="M886.91 710.21L894.7 723.71L879.11 723.71Z" fill="#5A5108"/>
<path d="M801.64 691.11L809.44 704.61L793.85 704.61Z" fill="#FF9FEF"/>
<path d="M836.08 689.27L843.88 702.77L828.29 702.77Z" fill="#FF9FEF"/>
<path d="M853.83 708.97L861.62 722.47L846.03 722.47Z" fill="#00A85A"/>
<path d="M800.94 712.55L808.74 726.05L793.15 726.05Z" fill="#FF9FEF"/>
<path d="M804.46 703.35L812.25 716.85L796.66 716.85Z" fill="#FF9FEF"/>
<path d="M839.71 665.97L847.51 679.47L831.92 679.47Z" fill="#5A5108"/>
<path d="M791.57 696.25L799.36 709.75L783.77 709.75Z" fill="#5A5108"/>
<path d="M828.92 704.1L836.71 717.6L821.13 717.6Z" fill="#00A85A"/>
<path d="M816.95 696.29L824.75 709.79L809.16 709.79Z" fill="#9E0089"/>
<path d="M796.78 700.11L804.57 713.61L788.98 713.61Z" fill="#FF9232"/>
<path d="M804.72 711.06L812.52 724.56L796.93 724.56Z" fill="#00A85A"/>
<path d="M772.15 708.31L779.95 721.81L764.36 721.81Z" fill="#FF9FEF"/>
<path d="M794.91 712.13L802.71 725.63L787.12 725.63Z" fill="#00A85A"/>
<path d="M857.71 673.84L865.5 687.34L849.92 687.34Z" fill="#00A85A"/>
<path d="M866.56 663.09L874.35 676.59L858.76 676.59Z" fill="#9E0089"/>
<path d="M862.34 666.69L870.14 680.19L854.55 680.19Z" fill="#FF9FEF"/>
<path d="M870.31 688.41L878.11 701.91L862.52 701.91Z" fill="#5A5108"/>
<path d="M821.8 674.91L829.59 688.41L814 688.41Z" fill="#00A85A"/>
<path d="M826.59 689.75L834.39 703.25L818.8 703.25Z" fill="#00A85A"/>
<path d="M840.97 700.67L848.77 714.17L833.18 714.17Z" fill="#9E0089"/>
<path d="M833.19 699.3L840.98 712.8L825.39 712.8Z" fill="#FF9FEF"/>
<path d="M843.77 692.51L851.57 706.01L835.98 706.01Z" fill="#FF9FEF"/>
<path d="M881.15 651.68L888.95 665.18L873.36 665.18Z" fill="#00A85A"/>
<path d="M890.52 712.47L898.32 725.97L882.73 725.97Z" fill="#00A85A"/>
<path d="M891.88 680.37L899.68 693.87L884.09 693.87Z" fill="#00A85A"/>
<path d="M835.66 689.06L843.45 702.56L827.86 702.56Z" fill="#5A5108"/>
<path d="M812.48 670.63L820.27 684.13L804.69 684.13Z" fill="#FF9FEF"/>
<path d="M815.73 702.44L823.53 715.94L807.94 715.94Z" fill="#0070B2"/>
<path d="M898.04 694.67L905.84 708.17L890.25 708.17Z" fill="#FF9FEF"/>
<path d="M837.45 681.5L845.25 695L829.66 695Z" fill="#FF9232"/>
<path d="M878.73 691.09L886.53 704.59L870.94 704.59Z" fill="#9E0089"/>
<path d="M877.97 641.9L885.76 655.4L870.17 655.4Z" fill="#FF9FEF"/>
<path d="M803.94 700.47L811.74 713.97L796.15 713.97Z" fill="#FF9FEF"/>
<path d="M851.4 690.38L859.19 703.88L843.6 703.88Z" fill="#5A5108"/>
<path d="M769.4 705.43L777.2 718.93L761.61 718.93Z" fill="#9E0089"/>
<path d="M764.05 708.98L771.84 722.48L756.25 722.48Z" fill="#5A5108"/>
<path d="M790.93 702.44L798.73 715.94L783.14 715.94Z" fill="#5A5108"/>
<path d="M837.64 660.84L845.44 674.34L829.85 674.34Z" fill="#FF9FEF"/>
<path d="M785.37 712.46L793.16 725.96L777.58 725.96Z" fill="#00A85A"/>
<path d="M878.33 712.78L886.12 726.28L870.53 726.28Z" fill="#9E0089"/>
<path d="M808.53 712.27L816.33 725.77L800.74 725.77Z" fill="#FF9FEF"/>
<path d="M889.59 685.77L897.38 699.27L881.79 699.27Z" fill="#00A85A"/>
<path d="M771.13 699.67L778.92 713.17L763.33 713.17Z" fill="#00A85A"/>
<path d="M850.01 704.78L857.81 718.28L842.22 718.28Z" fill="#9E0089"/>
<path d="M807.41 674.69L815.21 688.19L799.62 688.19Z" fill="#5A5108"/>
<path d="M863.73 705.07L871.52 718.57L855.93 718.57Z" fill="#00A85A"/>
<path d="M874.09 703.69L881.88 717.19L866.3 717.19Z" fill="#FF9FEF"/>
<path d="M819.75 711.22L827.54 724.72L811.95 724.72Z" fill="#00A85A"/>
<path d="M797.67 708.94L805.46 722.44L789.87 722.44Z" fill="#FF9FEF"/>
<path d="M856.17 701.01L863.96 714.51L848.37 714.51Z" fill="#FF9FEF"/>
<path d="M801.12 689.17L808.91 702.67L793.32 702.67Z" fill="#9E0089"/>
<path d="M875.79 706.93L883.58 720.43L867.99 720.43Z" fill="#00A85A"/>
<path d="M826.65 706.21L834.44 719.71L818.86 719.71Z" fill="#0070B2"/>
<path d="M845.47 700.88L853.26 714.38L837.67 714.38Z" fill="#FF9FEF"/>
<path d="M885.2 708.07L892.99 721.57L877.4 721.57Z" fill="#FF9FEF"/>
<path d="M871.16 686.33L878.95 699.83L863.36 699.83Z" fill="#FF9FEF"/>
<path d="M817.9 710.74L825.69 724.24L810.1 724.24Z" fill="#FF9FEF"/>
<path d="M855.95 709.3L863.75 722.8L848.16 722.8Z" fill="#00A85A"/>
<path d="M804.93 711.41L812.72 724.91L797.13 724.91Z" fill="#FF9FEF"/>
<path d="M863.48 702.77L871.27 716.27L855.68 716.27Z" fill="#9E0089"/>
<path d="M886.64 665.61L894.44 679.11L878.85 679.11Z" fill="#FF9FEF"/>
<path d="M858.31 686.14L866.1 699.64L850.51 699.64Z" fill="#5A5108"/>
<path d="M861.05 696.75L868.84 710.25L853.25 710.25Z" fill="#5A5108"/>
<path d="M788.84 708.8L796.64 722.3L781.05 722.3Z" fill="#9E0089"/>
<path d="M769.14 712.44L776.94 725.94L761.35 725.94Z" fill="#FF9FEF"/>
<path d="M816.61 711.88L824.41 725.38L808.82 725.38Z" fill="#FF9FEF"/>
<path d="M880.61 671.35L888.4 684.85L872.81 684.85Z" fill="#00A85A"/>
<path d="M858.96 700.49L866.76 713.99L851.17 713.99Z" fill="#9E0089"/>
<path d="M803.44 711.05L811.24 724.55L795.65 724.55Z" fill="#FF9FEF"/>
<path d="M797.6 708.54L805.4 722.04L789.81 722.04Z" fill="#0070B2"/>
<path d="M868.06 706.99L875.85 720.49L860.26 720.49Z" fill="#9E0089"/>
<path d="M879.11 701.83L886.9 715.33L871.32 715.33Z" fill="#00A85A"/>
<path d="M893.26 669.68L901.06 683.18L885.47 683.18Z" fill="#5A5108"/>
<path d="M826.66 710.07L834.46 723.57L818.87 723.57Z" fill="#00A85A"/>
<path d="M892.97 711.39L900.77 724.89L885.18 724.89Z" fill="#9E0089"/>
<path d="M799.94 691.33L807.73 704.83L792.14 704.83Z" fill="#5A5108"/>
<path d="M798.33 711.64L806.13 725.14L790.54 725.14Z" fill="#FF9FEF"/>
<path d="M806.82 707.04L814.62 720.54L799.03 720.54Z" fill="#FF9FEF"/>
<path d="M797.22 701.2L805.01 714.7L789.42 714.7Z" fill="#00A85A"/>
<path d="M805.26 685.39L813.06 698.89L797.47 698.89Z" fill="#FF9FEF"/>
<path d="M877.25 711.47L885.04 724.97L869.45 724.97Z" fill="#5A5108"/>
<path d="M827.83 712.22L835.63 725.72L820.04 725.72Z" fill="#00A85A"/>
<path d="M792.3 711.69L800.09 725.19L784.5 725.19Z" fill="#9E0089"/>
<path d="M826 709.89L833.79 723.39L818.2 723.39Z" fill="#00A85A"/>
<path d="M786.95 711.56L794.74 725.06L779.16 725.06Z" fill="#9E0089"/>
<path d="M775.21 695.79L783.01 709.29L767.42 709.29Z" fill="#FF9FEF"/>
<path d="M831.7 699.8L839.49 713.3L823.9 713.3Z" fill="#FF9FEF"/>
<path d="M891.78 672.93L899.57 686.43L883.98 686.43Z" fill="#5A5108"/>
<path d="M798.57 711.25L806.37 724.75L790.78 724.75Z" fill="#9E0089"/>
<path d="M804.84 705.12L812.63 718.62L797.04 718.62Z" fill="#0070B2"/>
<path d="M787 686.17L794.79 699.67L779.21 699.67Z" fill="#FF9FEF"/>
<path d="M789.24 692.5L797.04 706L781.45 706Z" fill="#5A5108"/>
<path d="M815.01 711.67L822.81 725.17L807.22 725.17Z" fill="#5A5108"/>
<path d="M877.85 662.31L885.65 675.81L870.06 675.81Z" fill="#00A85A"/>
<path d="M833.18 708.44L840.98 721.94L825.39 721.94Z" fill="#FF9FEF"/>
<path d="M859.47 707.33L867.27 720.83L851.68 720.83Z" fill="#FF9FEF"/>
<path d="M769.07 708.38L776.87 721.88L761.28 721.88Z" fill="#FF9FEF"/>
<path d="M880.79 650.56L888.59 664.06L873 664.06Z" fill="#FF9FEF"/>
<path d="M855.8 693.87L863.59 707.37L848 707.37Z" fill="#00A85A"/>
<path d="M856.42 712.21L864.22 725.71L848.63 725.71Z" fill="#00A85A"/>
<path d="M842.09 712.15L849.88 725.65L834.3 725.65Z" fill="#00A85A"/>
<path d="M899 654.42L906.79 667.92L891.2 667.92Z" fill="#5A5108"/>
<path d="M876.66 708.54L884.45 722.04L868.86 722.04Z" fill="#FF9FEF"/>
<path d="M843.17 668.03L850.97 681.53L835.38 681.53Z" fill="#FF9FEF"/>
<path d="M811.41 683.68L819.2 697.18L803.61 697.18Z" fill="#5A5108"/>
<path d="M825.9 708.54L833.7 722.04L818.11 722.04Z" fill="#5A5108"/>
<path d="M821.58 697.63L829.38 711.13L813.79 711.13Z" fill="#FF9FEF"/>
<path d="M788.68 711.08L796.47 724.58L780.89 724.58Z" fill="#FF9FEF"/>
<path d="M776.75 704.85L784.54 718.35L768.95 718.35Z" fill="#5A5108"/>
<path d="M795.1 699.88L802.9 713.38L787.31 713.38Z" fill="#5A5108"/>
<path d="M774.69 707.45L782.49 720.95L766.9 720.95Z" fill="#9E0089"/>
<path d="M840.3 710.82L848.1 724.32L832.51 724.32Z" fill="#9E0089"/>
<path d="M777.74 710.88L785.54 724.38L769.95 724.38Z" fill="#5A5108"/>
<path d="M871.61 712.33L879.4 725.83L863.82 725.83Z" fill="#00A85A"/>
<path d="M765.62 707.67L773.41 721.17L757.82 721.17Z" fill="#9E0089"/>
<path d="M822.92 669.42L830.72 682.92L815.13 682.92Z" fill="#5A5108"/>
<path d="M891.49 673.24L899.29 686.74L883.7 686.74Z" fill="#FF9FEF"/>
<path d="M870.02 712.05L877.82 725.55L862.23 725.55Z" fill="#9E0089"/>
<path d="M895.75 682.95L903.54 696.45L887.96 696.45Z" fill="#FF9FEF"/>
<path d="M840.06 681.7L847.86 695.2L832.27 695.2Z" fill="#5A5108"/>
<path d="M799.02 708.84L806.81 722.34L791.22 722.34Z" fill="#5A5108"/>
<path d="M779.34 712.51L787.14 726.01L771.55 726.01Z" fill="#FF9FEF"/>
<path d="M840.82 696.49L848.61 709.99L833.02 709.99Z" fill="#FF9FEF"/>
<path d="M885.62 672.54L893.41 686.04L877.82 686.04Z" fill="#0070B2"/>
<path d="M765.43 710.17L773.22 723.67L757.63 723.67Z" fill="#0070B2"/>
<path d="M875.16 711.54L882.96 725.04L867.37 725.04Z" fill="#5A5108"/>
<path d="M818.26 699.86L826.06 713.36L810.47 713.36Z" fill="#00A85A"/>
<path d="M885.29 684.72L893.08 698.22L877.49 698.22Z" fill="#FF9FEF"/>
<path d="M888.21 712.08L896.01 725.58L880.42 725.58Z" fill="#00A85A"/>
<path d="M844 711.64L851.79 725.14L836.2 725.14Z" fill="#FF9FEF"/>
<path d="M766.36 712.51L774.16 726.01L758.57 726.01Z" fill="#5A5108"/>
<path d="M801.54 706.9L809.33 720.4L793.74 720.4Z" fill="#5A5108"/>
<path d="M837.18 711.68L844.97 725.18L829.38 725.18Z" fill="#9E0089"/>
<path d="M885.2 655.04L892.99 668.54L877.4 668.54Z" fill="#00A85A"/>
<path d="M802.78 680.61L810.58 694.11L794.99 694.11Z" fill="#5A5108"/>
<path d="M805.91 680.92L813.7 694.42L798.11 694.42Z" fill="#5A5108"/>
<path d="M812.38 712.13L820.18 725.63L804.59 725.63Z" fill="#FF9FEF"/>
<path d="M812.22 709.68L820.01 723.18L804.42 723.18Z" fill="#00A85A"/>
<path d="M825.65 712.67L833.44 726.17L817.86 726.17Z" fill="#FF9FEF"/>
<path d="M806.54 692.74L814.33 706.24L798.74 706.24Z" fill="#FF9FEF"/>
<path d="M892.01 711.64L899.81 725.14L884.22 725.14Z" fill="#FF9232"/>
<path d="M813.3 689.26L821.09 702.76L805.5 702.76Z" fill="#FF9FEF"/>
<path d="M831.09 677.18L838.88 690.68L823.3 690.68Z" fill="#FF9FEF"/>
<path d="M786.46 703.76L794.25 717.26L778.66 717.26Z" fill="#00A85A"/>
<path d="M791.45 691.23L799.24 704.73L783.65 704.73Z" fill="#FF9FEF"/>
<path d="M865.88 711.18L873.67 724.68L858.08 724.68Z" fill="#0070B2"/>
<path d="M811.09 709.69L818.89 723.19L803.3 723.19Z" fill="#0070B2"/>
<path d="M852.76 668.62L860.56 682.12L844.97 682.12Z" fill="#9E0089"/>
<path d="M854.03 687.8L861.82 701.3L846.23 701.3Z" fill="#FF9FEF"/>
<path d="M821.29 710.61L829.09 724.11L813.5 724.11Z" fill="#00A85A"/>
<path d="M846.9 710.95L854.69 724.45L839.11 724.45Z" fill="#5A5108"/>
<path d="M776.54 710.76L784.33 724.26L768.74 724.26Z" fill="#FF9FEF"/>
<path d="M877.06 695.67L884.85 709.17L869.26 709.17Z" fill="#5A5108"/>
<path d="M855.2 689.87L863 703.37L847.41 703.37Z" fill="#FF9FEF"/>
<path d="M862.74 662.96L870.54 676.46L854.95 676.46Z" fill="#9E0089"/>
<path d="M899.85 695.99L907.64 709.49L892.05 709.49Z" fill="#FF9FEF"/>
<path d="M764.76 706.49L772.56 719.99L756.97 719.99Z" fill="#00A85A"/>
<path d="M771.89 706.8L779.69 720.3L764.1 720.3Z" fill="#0070B2"/>
<path d="M814.5 709.28L822.3 722.78L806.71 722.78Z" fill="#0070B2"/>
<path d="M786.11 711.82L793.9 725.32L778.32 725.32Z" fill="#FF9232"/>
<path d="M833.1 691.76L840.9 705.26L825.31 705.26Z" fill="#00A85A"/>
<path d="M808.67 683.22L816.47 696.72L800.88 696.72Z" fill="#FF9FEF"/>
<path d="M853.54 711.67L861.34 725.17L845.75 725.17Z" fill="#00A85A"/>
<path d="M891.72 654.37L899.51 667.87L883.92 667.87Z" fill="#FF9FEF"/>
<path d="M800.09 703.06L807.89 716.56L792.3 716.56Z" fill="#9E0089"/>
<path d="M853.16 694.5L860.95 708L845.36 708Z" fill="#5A5108"/>
<path d="M785.36 684.09L793.16 697.59L777.57 697.59Z" fill="#9E0089"/>
<path d="M878.28 701.83L886.08 715.33L870.49 715.33Z" fill="#0070B2"/>
<path d="M786.04 698.15L793.84 711.65L778.25 711.65Z" fill="#5A5108"/>
<path d="M886.66 697.02L894.45 710.52L878.86 710.52Z" fill="#9E0089"/>
<path d="M883.94 699.3L891.73 712.8L876.14 712.8Z" fill="#FF9FEF"/>
<path d="M766.91 710.98L774.7 724.48L759.11 724.48Z" fill="#FF9FEF"/>
<path d="M866.17 709.46L873.97 722.96L858.38 722.96Z" fill="#FF9FEF"/>
<path d="M810.87 672.55L818.66 686.05L803.07 686.05Z" fill="#FF9232"/>
<path d="M768.09 708.91L775.89 722.41L760.3 722.41Z" fill="#FF9FEF"/>
<path d="M833.92 712.76L841.71 726.26L826.12 726.26Z" fill="#FF9232"/>
<path d="M807.65 685.12L815.44 698.62L799.86 698.62Z" fill="#FF9FEF"/>
<path d="M823.27 711.32L831.07 724.82L815.48 724.82Z" fill="#00A85A"/>
<path d="M779.17 707.38L786.97 720.88L771.38 720.88Z" fill="#00A85A"/>
<path d="M793.51 677.35L801.31 690.85L785.72 690.85Z" fill="#FF9FEF"/>
<path d="M788.22 711.78L796.02 725.28L780.43 725.28Z" fill="#00A85A"/>
<path d="M841.15 701.44L848.94 714.94L833.35 714.94Z" fill="#5A5108"/>
<path d="M839.38 682.27L847.18 695.77L831.59 695.77Z" fill="#0070B2"/>
<path d="M863.63 698.03L871.42 711.53L855.83 711.53Z" fill="#FF9232"/>
<path d="M817.5 710.8L825.29 724.3L809.7 724.3Z" fill="#FF9FEF"/>
<path d="M848.29 669.59L856.09 683.09L840.5 683.09Z" fill="#00A85A"/>
<path d="M797.09 708.81L804.88 722.31L789.29 722.31Z" fill="#9E0089"/>
<path d="M890.24 709.76L898.03 723.26L882.44 723.26Z" fill="#5A5108"/>
<path d="M840.08 711.31L847.87 724.81L832.28 724.81Z" fill="#9E0089"/>
<path d="M834.66 681.01L842.46 694.51L826.87 694.51Z" fill="#5A5108"/>
<path d="M867.19 687.36L874.99 700.86L859.4 700.86Z" fill="#5A5108"/>
<path d="M848.99 687.06L856.78 700.56L841.19 700.56Z" fill="#5A5108"/>
<path d="M794.65 698.79L802.44 712.29L786.85 712.29Z" fill="#00A85A"/>
<path d="M864.16 692.46L871.95 705.96L856.36 705.96Z" fill="#FF9FEF"/>
<path d="M892.86 693.29L900.66 706.79L885.07 706.79Z" fill="#9E0089"/>
<path d="M796.79 706.25L804.58 719.75L789 719.75Z" fill="#5A5108"/>
<path d="M878.93 712.04L886.72 725.54L871.13 725.54Z" fill="#9E0089"/>
<path d="M877.58 708.26L885.37 721.76L869.78 721.76Z" fill="#FF9FEF"/>
<path d="M813.25 687.87L821.05 701.37L805.46 701.37Z" fill="#FF9FEF"/>
<path d="M818.68 665.89L826.47 679.39L810.88 679.39Z" fill="#00A85A"/>
<path d="M874.86 677.02L882.65 690.52L867.07 690.52Z" fill="#00A85A"/>
<path d="M836.14 705.91L843.93 719.41L828.34 719.41Z" fill="#00A85A"/>
<path d="M765.98 712.44L773.77 725.94L758.18 725.94Z" fill="#9E0089"/>
<path d="M801.81 705.67L809.6 719.17L794.01 719.17Z" fill="#FF9FEF"/>
<path d="M852.24 674.74L860.04 688.24L844.45 688.24Z" fill="#9E0089"/>
<path d="M849.69 700.38L857.49 713.88L841.9 713.88Z" fill="#00A85A"/>
<path d="M862.9 702.31L870.69 715.81L855.1 715.81Z" fill="#9E0089"/>
<path d="M812.65 703.17L820.45 716.67L804.86 716.67Z" fill="#FF9FEF"/>
<path d="M773.37 701.73L781.17 715.23L765.58 715.23Z" fill="#00A85A"/>
<path d="M889.23 674.13L897.03 687.63L881.44 687.63Z" fill="#00A85A"/>
<path d="M827.97 682.28L835.77 695.78L820.18 695.78Z" fill="#0070B2"/>
<path d="M824.86 698.57L832.65 712.07L817.06 712.07Z" fill="#5A5108"/>
<path d="M866.79 697.63L874.59 711.13L859 711.13Z" fill="#5A5108"/>
<path d="M870.81 677.09L878.6 690.59L863.01 690.59Z" fill="#FF9FEF"/>
<path d="M877.54 709.07L885.33 722.57L869.74 722.57Z" fill="#5A5108"/>
<path d="M771.17 699.4L778.97 712.9L763.38 712.9Z" fill="#FF9FEF"/>
<path d="M859.9 697.6L867.69 711.1L852.1 711.1Z" fill="#9E0089"/>
<path d="M885.13 707.16L892.93 720.66L877.34 720.66Z" fill="#FF9FEF"/>
<path d="M883.31 688.19L891.11 701.69L875.52 701.69Z" fill="#FF9FEF"/>
<path d="M805.98 676.57L813.77 690.07L798.18 690.07Z" fill="#FF9FEF"/>
<path d="M791.68 711.85L799.47 725.35L783.89 725.35Z" fill="#00A85A"/>
<path d="M831.71 694.19L839.51 707.69L823.92 707.69Z" fill="#FF9FEF"/>
<path d="M891.75 692.16L899.55 705.66L883.96 705.66Z" fill="#5A5108"/>
<path d="M820.55 696.52L828.34 710.02L812.75 710.02Z" fill="#9E0089"/>
<path d="M804.17 683.63L811.96 697.13L796.37 697.13Z" fill="#00A85A"/>
<path d="M893.91 711.93L901.71 725.43L886.12 725.43Z" fill="#5A5108"/>
<path d="M770.33 700.95L778.12 714.45L762.54 714.45Z" fill="#FF9FEF"/>
<path d="M892.17 678.02L899.97 691.52L884.38 691.52Z" fill="#5A5108"/>
<path d="M857.66 702.67L865.45 716.17L849.86 716.17Z" fill="#FF9FEF"/>
<path d="M891.54 711.23L899.34 724.73L883.75 724.73Z" fill="#0070B2"/>
<path d="M821.35 692.77L829.14 706.27L813.56 706.27Z" fill="#5A5108"/>
<path d="M785.1 711.13L792.89 724.63L777.31 724.63Z" fill="#FF9FEF"/>
<path d="M795.96 699.49L803.75 712.99L788.16 712.99Z" fill="#FF9FEF"/>
<path d="M890.71 711.2L898.5 724.7L882.92 724.7Z" fill="#FF9232"/>
<path d="M818.11 712.02L825.91 725.52L810.32 725.52Z" fill="#FF9FEF"/>
<path d="M839.63 710.13L847.42 723.63L831.83 723.63Z" fill="#00A85A"/>
<path d="M858.21 710.95L866 724.45L850.41 724.45Z" fill="#FF9232"/>
<path d="M894.55 693.23L902.34 706.73L886.76 706.73Z" fill="#9E0089"/>
<path d="M832.77 673.92L840.56 687.42L824.97 687.42Z" fill="#9E0089"/>
<path d="M846.89 712.26L854.68 725.76L839.1 725.76Z" fill="#0070B2"/>
<path d="M881.43 711.6L889.23 725.1L873.64 725.1Z" fill="#0070B2"/>
<path d="M811.53 712.13L819.32 725.63L803.74 725.63Z" fill="#00A85A"/>
<path d="M798.01 693.84L805.81 707.34L790.22 707.34Z" fill="#FF9FEF"/>
<path d="M773.18 705.51L780.98 719.01L765.39 719.01Z" fill="#9E0089"/>
<path d="M846.59 697.2L854.38 710.7L838.79 710.7Z" fill="#FF9FEF"/>
<path d="M853.73 708.59L861.52 722.09L845.94 722.09Z" fill="#00A85A"/>
<path d="M856.01 707.45L863.8 720.95L848.21 720.95Z" fill="#FF9FEF"/>
<path d="M881 712.61L888.79 726.11L873.21 726.11Z" fill="#0070B2"/>
<path d="M779.83 711.86L787.63 725.36L772.04 725.36Z" fill="#FF9FEF"/>
<path d="M838.2 696.39L845.99 709.89L830.4 709.89Z" fill="#00A85A"/>
<path d="M791.88 710.44L799.68 723.94L784.09 723.94Z" fill="#00A85A"/>
<path d="M887.74 711.66L895.53 725.16L879.95 725.16Z" fill="#9E0089"/>
<path d="M843.07 687.52L850.87 701.02L835.28 701.02Z" fill="#FF9FEF"/>
<path d="M800.35 712.19L808.15 725.69L792.56 725.69Z" fill="#FF9FEF"/>
<path d="M887.73 709.54L895.52 723.04L879.93 723.04Z" fill="#5A5108"/>
<path d="M872.87 680.68L880.66 694.18L865.08 694.18Z" fill="#5A5108"/>
<path d="M900.62 710.13L908.42 723.63L892.83 723.63Z" fill="#FF9FEF"/>
<path d="M876.57 710.92L884.37 724.42L868.78 724.42Z" fill="#00A85A"/>
<path d="M820.29 710.65L828.09 724.15L812.5 724.15Z" fill="#5A5108"/>
<path d="M784.6 706.53L792.39 720.03L776.8 720.03Z" fill="#FF9FEF"/>
<path d="M809.68 670.51L817.48 684.01L801.89 684.01Z" fill="#00A85A"/>
<path d="M832.88 671.55L840.67 685.05L825.08 685.05Z" fill="#5A5108"/>
<path d="M791.27 690.48L799.06 703.98L783.47 703.98Z" fill="#FF9FEF"/>
<path d="M863.58 700.11L871.38 713.61L855.79 713.61Z" fill="#5A5108"/>
<path d="M867.51 703.72L875.3 717.22L859.71 717.22Z" fill="#0070B2"/>
<path d="M867.42 656.83L875.22 670.33L859.63 670.33Z" fill="#00A85A"/>
<path d="M878.61 656.42L886.41 669.92L870.82 669.92Z" fill="#0070B2"/>
<path d="M837.67 670.65L845.46 684.15L829.87 684.15Z" fill="#9E0089"/>
<path d="M798.65 689.62L806.45 703.12L790.86 703.12Z" fill="#00A85A"/>
<path d="M796.51 694.14L804.31 707.64L788.72 707.64Z" fill="#9E0089"/>
<path d="M818.19 676.07L825.98 689.57L810.39 689.57Z" fill="#0070B2"/>
<path d="M878.69 696.3L886.49 709.8L870.9 709.8Z" fill="#9E0089"/>
<path d="M810.87 686.73L818.67 700.23L803.08 700.23Z" fill="#FF9FEF"/>
<path d="M831.72 712.37L839.52 725.87L823.93 725.87Z" fill="#00A85A"/>
<path d="M847.86 697.22L855.66 710.72L840.07 710.72Z" fill="#00A85A"/>
<path d="M881.31 712.26L889.11 725.76L873.52 725.76Z" fill="#9E0089"/>
<path d="M825.16 711.43L832.96 724.93L817.37 724.93Z" fill="#FF9FEF"/>
<path d="M878.3 705.86L886.09 719.36L870.51 719.36Z" fill="#00A85A"/>
<path d="M794.78 679.73L802.57 693.23L786.98 693.23Z" fill="#00A85A"/>
<path d="M833.21 670.89L841 684.39L825.41 684.39Z" fill="#FF9FEF"/>
<path d="M879.37 712.45L887.17 725.95L871.58 725.95Z" fill="#0070B2"/>
<path d="M826.91 684.37L834.71 697.87L819.12 697.87Z" fill="#FF9FEF"/>
<path d="M840.6 677.5L848.39 691L832.8 691Z" fill="#0070B2"/>
<path d="M888.19 680.77L895.98 694.27L880.39 694.27Z" fill="#00A85A"/>
<path d="M836.34 676.02L844.14 689.52L828.55 689.52Z" fill="#00A85A"/>
<path d="M899.68 709.13L907.47 722.63L891.89 722.63Z" fill="#00A85A"/>
<path d="M868.27 652.57L876.07 666.07L860.48 666.07Z" fill="#FF9FEF"/>
<path d="M808.86 706.91L816.66 720.41L801.07 720.41Z" fill="#FF9FEF"/>
<path d="M845.46 692.48L853.26 705.98L837.67 705.98Z" fill="#9E0089"/>
<path d="M852.99 695.59L860.78 709.09L845.19 709.09Z" fill="#5A5108"/>
<path d="M822.19 665.35L829.98 678.85L814.39 678.85Z" fill="#5A5108"/>
<path d="M816.58 668.32L824.37 681.82L808.78 681.82Z" fill="#FF9FEF"/>
<path d="M786.08 693.5L793.88 707L778.29 707Z" fill="#00A85A"/>
<path d="M783.01 711.32L790.81 724.82L775.22 724.82Z" fill="#FF9FEF"/>
<path d="M807.02 711.65L814.81 725.15L799.23 725.15Z" fill="#0070B2"/>
<path d="M808.27 702.09L816.06 715.59L800.47 715.59Z" fill="#00A85A"/>
<path d="M817.28 675.19L825.07 688.69L809.49 688.69Z" fill="#0070B2"/>
<path d="M826.31 670.76L834.1 684.26L818.51 684.26Z" fill="#FF9FEF"/>
<path d="M784.71 696.07L792.51 709.57L776.92 709.57Z" fill="#5A5108"/>
<path d="M868.49 702.73L876.29 716.23L860.7 716.23Z" fill="#5A5108"/>
<path d="M803.73 696.78L811.52 710.28L795.93 710.28Z" fill="#FF9FEF"/>
<path d="M878.82 688.22L886.61 701.72L871.02 701.72Z" fill="#FF9FEF"/>
<path d="M797.45 711.44L805.25 724.94L789.66 724.94Z" fill="#5A5108"/>
<path d="M821.08 685.82L828.87 699.32L813.28 699.32Z" fill="#5A5108"/>
<path d="M894.68 681.86L902.47 695.36L886.89 695.36Z" fill="#9E0089"/>
<path d="M812.29 704.55L820.08 718.05L804.49 718.05Z" fill="#00A85A"/>
<path d="M856.88 669.66L864.68 683.16L849.09 683.16Z" fill="#FF9FEF"/>
<path d="M821.14 688.66L828.94 702.16L813.35 702.16Z" fill="#5A5108"/>
<path d="M819.81 696.3L827.61 709.8L812.02 709.8Z" fill="#9E0089"/>
<path d="M880.46 701.82L888.25 715.32L872.66 715.32Z" fill="#00A85A"/>
<path d="M888.82 644.4L896.61 657.9L881.02 657.9Z" fill="#5A5108"/>
<path d="M886.07 702.96L893.87 716.46L878.28 716.46Z" fill="#5A5108"/>
<path d="M801.87 710.1L809.67 723.6L794.08 723.6Z" fill="#FF9FEF"/>
<path d="M793.22 708.45L801.02 721.95L785.43 721.95Z" fill="#FF9232"/>
<path d="M875.39 711.12L883.19 724.62L867.6 724.62Z" fill="#FF9FEF"/>
<path d="M763.98 707.92L771.77 721.42L756.18 721.42Z" fill="#FF9FEF"/>
<path d="M825.68 711.15L833.47 724.65L817.88 724.65Z" fill="#FF9FEF"/>
<path d="M794.81 698.25L802.61 711.75L787.02 711.75Z" fill="#5A5108"/>
<path d="M793.89 692.73L801.69 706.23L786.1 706.23Z" fill="#9E0089"/>
<path d="M838.42 711.79L846.22 725.29L830.63 725.29Z" fill="#00A85A"/>
<path d="M772.3 699.7L780.09 713.2L764.5 713.2Z" fill="#00A85A"/>
<path d="M834.94 693.51L842.73 707.01L827.14 707.01Z" fill="#FF9232"/>
<path d="M875.68 656.04L883.48 669.54L867.89 669.54Z" fill="#FF9FEF"/>
<path d="M830.16 709.21L837.96 722.71L822.37 722.71Z" fill="#9E0089"/>
<path d="M826.92 703.28L834.72 716.78L819.13 716.78Z" fill="#FF9FEF"/>
<path d="M790.59 695.57L798.39 709.07L782.8 709.07Z" fill="#FF9FEF"/>
<path d="M861.67 706.07L869.47 719.57L853.88 719.57Z" fill="#9E0089"/>
<path d="M899.24 664.71L907.03 678.21L891.44 678.21Z" fill="#9E0089"/>
<path d="M772.25 710.54L780.04 724.04L764.46 724.04Z" fill="#9E0089"/>
<path d="M851.41 711.54L859.21 725.04L843.62 725.04Z" fill="#FF9232"/>
<path d="M806.15 711.86L813.95 725.36L798.36 725.36Z" fill="#0070B2"/>
<path d="M875.73 712.49L883.52 725.99L867.93 725.99Z" fill="#9E0089"/>
<path d="M829.24 661.86L837.04 675.36L821.45 675.36Z" fill="#00A85A"/>
<path d="M878.16 708.04L885.95 721.54L870.36 721.54Z" fill="#00A85A"/>
<path d="M792.7 707.9L800.49 721.4L784.9 721.4Z" fill="#9E0089"/>
<path d="M895.37 658.55L903.17 672.05L887.58 672.05Z" fill="#00A85A"/>
<path d="M876.76 712.37L884.55 725.87L868.96 725.87Z" fill="#5A5108"/>
<path d="M816.36 712.38L824.15 725.88L808.56 725.88Z" fill="#00A85A"/>
<path d="M769.53 712.15L777.33 725.65L761.74 725.65Z" fill="#5A5108"/>
<path d="M887 676.29L894.8 689.79L879.21 689.79Z" fill="#FF9FEF"/>
<path d="M889.86 696.4L897.65 709.9L882.06 709.9Z" fill="#FF9FEF"/>
<path d="M791.39 703.41L799.18 716.91L783.59 716.91Z" fill="#9E0089"/>
<path d="M824.83 711.86L832.62 725.36L817.03 725.36Z" fill="#00A85A"/>
<path d="M857.37 683.47L865.16 696.97L849.57 696.97Z" fill="#9E0089"/>
<path d="M829.3 705.5L837.1 719L821.51 719Z" fill="#FF9FEF"/>
<path d="M796.78 679.16L804.58 692.66L788.99 692.66Z" fill="#9E0089"/>
<path d="M878.42 712.61L886.22 726.11L870.63 726.11Z" fill="#FF9232"/>
<path d="M875.48 711.44L883.27 724.94L867.69 724.94Z" fill="#0070B2"/>
<path d="M794.13 688.01L801.93 701.51L786.34 701.51Z" fill="#0070B2"/>
<path d="M800.18 709.65L807.98 723.15L792.39 723.15Z" fill="#FF9FEF"/>
<path d="M834.94 707.11L842.74 720.61L827.15 720.61Z" fill="#0070B2"/>
<path d="M763.82 705.23L771.61 718.73L756.02 718.73Z" fill="#00A85A"/>
<path d="M849.97 712.69L857.76 726.19L842.17 726.19Z" fill="#5A5108"/>
<path d="M804.09 703.64L811.88 717.14L796.3 717.14Z" fill="#FF9FEF"/>
<path d="M879.24 711.5L887.03 725L871.44 725Z" fill="#FF9FEF"/>
<path d="M823.35 707.39L831.15 720.89L815.56 720.89Z" fill="#00A85A"/>
<path d="M776.62 694.46L784.41 707.96L768.82 707.96Z" fill="#FF9FEF"/>
<path d="M814.78 711.59L822.57 725.09L806.98 725.09Z" fill="#FF9232"/>
<path d="M870.75 711.42L878.54 724.92L862.95 724.92Z" fill="#5A5108"/>
<path d="M836.06 698.58L843.85 712.08L828.26 712.08Z" fill="#5A5108"/>
<path d="M891.34 667.59L899.13 681.09L883.54 681.09Z" fill="#9E0089"/>
<path d="M863.48 710.79L871.27 724.29L855.68 724.29Z" fill="#00A85A"/>
<path d="M886 699.33L893.79 712.83L878.21 712.83Z" fill="#9E0089"/>
<path d="M798.74 706.45L806.54 719.95L790.95 719.95Z" fill="#FF9FEF"/>
<path d="M912.44 463.11L920.24 476.61L904.65 476.61Z" fill="#00A85A"/>
<path d="M895.56 492.09L903.35 505.59L887.76 505.59Z" fill="#FF9FEF"/>
<path d="M920 498.2L927.79 511.7L912.21 511.7Z" fill="#5A5108"/>
<path d="M922.22 495.11L930.02 508.61L914.43 508.61Z" fill="#FF9FEF"/>
<path d="M864.44 510.22L872.24 523.72L856.65 523.72Z" fill="#FF9FEF"/>
<path d="M879.2 512.36L886.99 525.86L871.41 525.86Z" fill="#9E0089"/>
<path d="M869.78 558.22L877.57 571.72L861.98 571.72Z" fill="#FF9FEF"/>
<path d="M900.89 562.13L908.68 575.63L893.09 575.63Z" fill="#5A5108"/>
<path d="M925.42 559.47L933.22 572.97L917.63 572.97Z" fill="#FF9FEF"/>
<path d="M937.69 555.56L945.48 569.06L929.89 569.06Z" fill="#FF9FEF"/>
<path d="M925.78 568.89L933.57 582.39L917.98 582.39Z" fill="#9E0089"/>
<path d="M915.11 583.11L922.91 596.61L907.32 596.61Z" fill="#0070B2"/>
<path d="M909.78 586.67L917.57 600.17L901.98 600.17Z" fill="#0070B2"/>
<path d="M891.11 591.11L898.91 604.61L883.32 604.61Z" fill="#5A5108"/>
<path d="M871.56 594.31L879.35 607.81L863.76 607.81Z" fill="#9E0089"/>
<path d="M863.02 599.11L870.82 612.61L855.23 612.61Z" fill="#FF9FEF"/>
<path d="M884.89 598.22L892.68 611.72L877.09 611.72Z" fill="#FF9FEF"/>
<path d="M783.2 606.58L790.99 620.08L775.41 620.08Z" fill="#5A5108"/>
<path d="M808.8 605.69L816.59 619.19L801.01 619.19Z" fill="#FF9FEF"/>
<path d="M825.87 611.02L833.66 624.52L818.07 624.52Z" fill="#FF9FEF"/>
<path d="M889.33 610.67L897.13 624.17L881.54 624.17Z" fill="#0070B2"/>
<path d="M894.31 608.89L902.11 622.39L886.52 622.39Z" fill="#5A5108"/>
<path d="M856.44 612.44L864.24 625.94L848.65 625.94Z" fill="#9E0089"/>
<path d="M837.24 616L845.04 629.5L829.45 629.5Z" fill="#00A85A"/>
<path d="M905.33 618.31L913.13 631.81L897.54 631.81Z" fill="#00A85A"/>
<path d="M844.89 623.11L852.68 636.61L837.09 636.61Z" fill="#9E0089"/>
<path d="M853.78 624.89L861.57 638.39L845.98 638.39Z" fill="#9E0089"/>
<path d="M821.78 628.44L829.57 641.94L813.98 641.94Z" fill="#FF9FEF"/>
<path d="M868.89 629.33L876.68 642.83L861.09 642.83Z" fill="#0070B2"/>
<path d="M880.44 627.56L888.24 641.06L872.65 641.06Z" fill="#00A85A"/>
<path d="M902.67 632.89L910.46 646.39L894.87 646.39Z" fill="#00A85A"/>
<path d="M862.67 634.67L870.46 648.17L854.87 648.17Z" fill="#5A5108"/>
<path d="M850.22 637.33L858.02 650.83L842.43 650.83Z" fill="#9E0089"/>
<path d="M882.22 636.44L890.02 649.94L874.43 649.94Z" fill="#00A85A"/>
<path d="M906.22 640L914.02 653.5L898.43 653.5Z" fill="#FF9FEF"/>
<path d="M885.78 641.78L893.57 655.28L877.98 655.28Z" fill="#00A85A"/>
<path d="M873.33 642.67L881.13 656.17L865.54 656.17Z" fill="#FF9FEF"/>
<path d="M859.11 646.22L866.91 659.72L851.32 659.72Z" fill="#0070B2"/>
<path d="M904.44 646.22L912.24 659.72L896.65 659.72Z" fill="#9E0089"/>
<path d="M891.11 646.22L898.91 659.72L883.32 659.72Z" fill="#00A85A"/>
<path d="M785.87 650.13L793.66 663.63L778.07 663.63Z" fill="#FF9FEF"/>
<path d="M844 649.78L851.79 663.28L836.21 663.28Z" fill="#FF9FEF"/>
<path d="M864.44 651.56L872.24 665.06L856.65 665.06Z" fill="#5A5108"/>
<path d="M835.11 654.22L842.91 667.72L827.32 667.72Z" fill="#9E0089"/>
<path d="M818.22 655.47L826.02 668.97L810.43 668.97Z" fill="#FF9232"/>
<path d="M813.78 657.78L821.57 671.28L805.98 671.28Z" fill="#00A85A"/>
<path d="M853.78 656L861.57 669.5L845.98 669.5Z" fill="#9E0089"/>
<path d="M804.36 662.22L812.15 675.72L796.56 675.72Z" fill="#0070B2"/>
<path d="M810.22 661.33L818.02 674.83L802.43 674.83Z" fill="#FF9FEF"/>
<path d="M788.89 665.78L796.68 679.28L781.09 679.28Z" fill="#FF9FEF"/>
<path d="M889.33 656.89L897.13 670.39L881.54 670.39Z" fill="#FF9FEF"/>
<path d="M885.78 658.67L893.57 672.17L877.98 672.17Z" fill="#9E0089"/>
<path d="M834.22 664L842.02 677.5L826.43 677.5Z" fill="#FF9232"/>
<path d="M875.11 667.56L882.91 681.06L867.32 681.06Z" fill="#00A85A"/>
<path d="M845.78 669.33L853.57 682.83L837.98 682.83Z" fill="#5A5108"/>
<path d="M924 669.33L931.79 682.83L916.21 682.83Z" fill="#FF9FEF"/>
<path d="M792.98 671.64L800.77 685.14L785.18 685.14Z" fill="#9E0089"/>
<path d="M778.22 677.33L786.02 690.83L770.43 690.83Z" fill="#FF9FEF"/>
<path d="M819.11 674.67L826.91 688.17L811.32 688.17Z" fill="#0070B2"/>
<path d="M827.11 675.56L834.91 689.06L819.32 689.06Z" fill="#00A85A"/>
<path d="M884 672.89L891.79 686.39L876.21 686.39Z" fill="#00A85A"/>
<path d="M894.67 674.67L902.46 688.17L886.87 688.17Z" fill="#FF9FEF"/>
<path d="M860.89 674.67L868.68 688.17L853.09 688.17Z" fill="#00A85A"/>
<path d="M866.22 676.44L874.02 689.94L858.43 689.94Z" fill="#FF9232"/>
<path d="M872.44 678.22L880.24 691.72L864.65 691.72Z" fill="#FF9FEF"/>
<path d="M920.98 684.44L928.77 697.94L913.18 697.94Z" fill="#5A5108"/>
<path d="M908 685.33L915.79 698.83L900.21 698.83Z" fill="#FF9FEF"/>
<path d="M896.44 688L904.24 701.5L888.65 701.5Z" fill="#5A5108"/>
<path d="M851.11 685.33L858.91 698.83L843.32 698.83Z" fill="#0070B2"/>
<path d="M811.11 688.89L818.91 702.39L803.32 702.39Z" fill="#FF9FEF"/>
<path d="M788.89 684.44L796.68 697.94L781.09 697.94Z" fill="#FF9FEF"/>
<path d="M782.13 693.87L789.93 707.37L774.34 707.37Z" fill="#5A5108"/>
<path d="M775.56 696.89L783.35 710.39L767.76 710.39Z" fill="#9E0089"/>
<path d="M889.33 693.33L897.13 706.83L881.54 706.83Z" fill="#9E0089"/>
<path d="M868 690.67L875.79 704.17L860.21 704.17Z" fill="#FF9FEF"/>
<path d="M840.98 700.44L848.77 713.94L833.18 713.94Z" fill="#9E0089"/>
<path d="M804.89 703.11L812.68 716.61L797.09 716.61Z" fill="#9E0089"/>
<path d="M899.11 701.33L906.91 714.83L891.32 714.83Z" fill="#FF9FEF"/>
<path d="M763.11 706.67L770.91 720.17L755.32 720.17Z" fill="#9E0089"/>
<path d="M816.44 708.44L824.24 721.94L808.65 721.94Z" fill="#00A85A"/>
<path d="M772.89 711.11L780.68 724.61L765.09 724.61Z" fill="#FF9FEF"/>
<path d="M864.44 703.11L872.24 716.61L856.65 716.61Z" fill="#5A5108"/>
<path d="M875.11 708.44L882.91 721.94L867.32 721.94Z" fill="#5A5108"/>
<path d="M882.22 712L890.02 725.5L874.43 725.5Z" fill="#5A5108"/>
<path d="M864.44 712L872.24 725.5L856.65 725.5Z" fill="#5A5108"/>
<path d="M895.56 712.89L903.35 726.39L887.76 726.39Z" fill="#5A5108"/>
<path d="M829.78 710.22L837.57 723.72L821.98 723.72Z" fill="#FF9FEF"/>
<path d="M853.78 712L861.57 725.5L845.98 725.5Z" fill="#FF9FEF"/>
<path d="M804.75 662.67L812.54 676.17L796.95 676.17Z" fill="#0070B2"/>
<path d="M812.93 658.89L820.73 672.39L805.14 672.39Z" fill="#00A85A"/>
<path d="M818.98 655.74L826.77 669.24L811.19 669.24Z" fill="#FF9232"/>
<path d="M820.49 660.15L828.29 673.65L812.7 673.65Z" fill="#9E0089"/>
<path d="M810.42 661.41L818.21 674.91L802.62 674.91Z" fill="#FF9FEF"/>
<path d="M785.6 650.71L793.4 664.21L777.81 664.21Z" fill="#FF9FEF"/>
<path d="M789.01 665.82L796.8 679.32L781.21 679.32Z" fill="#FF9FEF"/>
<path d="M778.93 677.15L786.72 690.65L771.14 690.65Z" fill="#FF9FEF"/>
<path d="M793.16 671.49L800.96 684.99L785.37 684.99Z" fill="#9E0089"/>
<path d="M835.6 653.85L843.4 667.35L827.81 667.35Z" fill="#9E0089"/>
<path d="M843.16 650.08L850.96 663.58L835.37 663.58Z" fill="#FF9FEF"/>
<path d="M858.27 648.19L866.07 661.69L850.48 661.69Z" fill="#0070B2"/>
<path d="M854.5 656.37L862.29 669.87L846.7 669.87Z" fill="#9E0089"/>
<path d="M868.35 653.85L876.14 667.35L860.56 667.35Z" fill="#5A5108"/>
<path d="M879.69 655.11L887.48 668.61L871.89 668.61Z" fill="#FF9FEF"/>
<path d="M885.98 658.89L893.78 672.39L878.19 672.39Z" fill="#9E0089"/>
<path d="M904.24 646.93L912.04 660.43L896.45 660.43Z" fill="#9E0089"/>
<path d="M835.6 668.97L843.4 682.47L827.81 682.47Z" fill="#FF9232"/>
<path d="M819.23 674.63L827.03 688.13L811.44 688.13Z" fill="#0070B2"/>
<path d="M826.79 675.89L834.58 689.39L818.99 689.39Z" fill="#00A85A"/>
<path d="M845.68 669.6L853.47 683.1L837.89 683.1Z" fill="#5A5108"/>
<path d="M859.53 673.38L867.33 686.88L851.74 686.88Z" fill="#00A85A"/>
<path d="M875.91 667.71L883.7 681.21L868.11 681.21Z" fill="#00A85A"/>
<path d="M883.46 672.12L891.26 685.62L875.67 685.62Z" fill="#00A85A"/>
<path d="M864.57 679.04L872.37 692.54L856.78 692.54Z" fill="#FF9232"/>
<path d="M873.39 678.41L881.18 691.91L865.59 691.91Z" fill="#FF9FEF"/>
<path d="M893.54 674.63L901.33 688.13L885.74 688.13Z" fill="#FF9FEF"/>
<path d="M851.98 683.45L859.77 696.95L844.18 696.95Z" fill="#0070B2"/>
<path d="M923.77 669.6L931.56 683.1L915.97 683.1Z" fill="#FF9FEF"/>
<path d="M921.25 684.08L929.04 697.58L913.45 697.58Z" fill="#5A5108"/>
<path d="M908.02 685.34L915.82 698.84L900.23 698.84Z" fill="#FF9FEF"/>
<path d="M896.69 688.49L904.48 701.99L888.89 701.99Z" fill="#5A5108"/>
<path d="M811.05 689.12L818.84 702.62L803.25 702.62Z" fill="#FF9FEF"/>
<path d="M819.23 692.9L827.03 706.4L811.44 706.4Z" fill="#FF9FEF"/>
<path d="M833.09 690.38L840.88 703.88L825.29 703.88Z" fill="#FF9FEF"/>
<path d="M789.01 685.97L796.8 699.47L781.21 699.47Z" fill="#FF9FEF"/>
<path d="M797.82 699.19L805.62 712.69L790.03 712.69Z" fill="#FF9FEF"/>
<path d="M782.08 694.16L789.87 707.66L774.28 707.66Z" fill="#5A5108"/>
<path d="M775.15 697.3L782.95 710.8L767.36 710.8Z" fill="#9E0089"/>
<path d="M763.19 707.38L770.98 720.88L755.39 720.88Z" fill="#9E0089"/>
<path d="M772.63 711.79L780.43 725.29L764.84 725.29Z" fill="#FF9FEF"/>
<path d="M780.19 712.42L787.98 725.92L772.39 725.92Z" fill="#5A5108"/>
<path d="M805.38 704.23L813.17 717.73L797.58 717.73Z" fill="#9E0089"/>
<path d="M816.71 709.27L824.51 722.77L808.92 722.77Z" fill="#00A85A"/>
<path d="M829.94 710.53L837.73 724.03L822.14 724.03Z" fill="#FF9FEF"/>
<path d="M840.64 700.45L848.44 713.95L832.85 713.95Z" fill="#9E0089"/>
<path d="M850.72 710.53L858.51 724.03L842.92 724.03Z" fill="#FF9FEF"/>
<path d="M870.24 692.9L878.03 706.4L862.45 706.4Z" fill="#FF9FEF"/>
<path d="M888.5 692.9L896.3 706.4L880.71 706.4Z" fill="#9E0089"/>
<path d="M899.84 700.45L907.63 713.95L892.04 713.95Z" fill="#FF9FEF"/>
<path d="M865.83 703.6L873.63 717.1L858.04 717.1Z" fill="#5A5108"/>
<path d="M863.31 713.05L871.11 726.55L855.52 726.55Z" fill="#5A5108"/>
<path d="M873.39 710.53L881.18 724.03L865.59 724.03Z" fill="#5A5108"/>
<path d="M882.2 713.05L890 726.55L874.41 726.55Z" fill="#5A5108"/>
<path d="M896.06 713.05L903.85 726.55L888.26 726.55Z" fill="#5A5108"/>
<circle cx="185.9" cy="57.8" r="5.85" fill="#FF9FEF"/>
<circle cx="577.4" cy="217" r="5.85" fill="#00A85A"/>
<circle cx="563" cy="493" r="5.85" fill="#00A85A"/>
<path d="M924.6 263L932.39 276.5L916.81 276.5Z" fill="#0070B2"/>
<path d="M1292.5 250.8L1300.29 264.3L1284.71 264.3Z" fill="#FF9FEF"/>
<path d="M1279.5 292.3L1287.29 305.8L1271.71 305.8Z" fill="#FF9FEF"/>
<path d="M1268.5 350.1L1276.29 363.6L1260.71 363.6Z" fill="#5A5108"/>
<path d="M1260.4 356.6L1268.19 370.1L1252.61 370.1Z" fill="#FF9FEF"/>
<path d="M1254.9 355.1L1262.69 368.6L1247.11 368.6Z" fill="#FF9FEF"/>
<path d="M1251.5 361.6L1259.29 375.1L1243.71 375.1Z" fill="#5A5108"/>
<path d="M1251.5 357.5L1259.29 371L1243.71 371Z" fill="#5A5108"/>
<path d="M1207.2 434.4L1214.99 447.9L1199.41 447.9Z" fill="#5A5108"/>
</g>
<rect x="130.5" y="24.4" width="1217.5" height="730.8" fill="none" stroke="#000" stroke-width="4.5"/>
<rect x="126.6" y="748.1" width="2" height="4.6" fill="#333333"/>
<rect x="126.6" y="532.1" width="2" height="4.6" fill="#333333"/>
<rect x="126.6" y="316.1" width="2" height="4.6" fill="#333333"/>
<rect x="126.6" y="100.1" width="2" height="4.6" fill="#333333"/>
<rect x="278.4" y="757" width="4.6" height="2" fill="#333333"/>
<rect x="503.9" y="757" width="4.6" height="2" fill="#333333"/>
<rect x="729.4" y="757" width="4.6" height="2" fill="#333333"/>
<rect x="954.9" y="757" width="4.6" height="2" fill="#333333"/>
<rect x="1180.4" y="757" width="4.6" height="2" fill="#333333"/>
<g font-size="26.4" fill="#4D4D4D" text-anchor="end">
<text transform="translate(117.9 755.6) scale(1 1.045)">0</text>
<text transform="translate(117.9 539.6) scale(1 1.045)">10</text>
<text transform="translate(117.9 323.6) scale(1 1.045)">20</text>
<text transform="translate(117.9 107.6) scale(1 1.045)">30</text>
</g>
<g font-size="26.4" fill="#4D4D4D" text-anchor="start">
<text transform="translate(254.6 795.3) scale(1 1.045)">−20</text>
<text transform="translate(480.1 795.3) scale(1 1.045)">−10</text>
<text transform="translate(727.9 795.3) scale(1 1.045)">0</text>
<text transform="translate(936.6 795.3) scale(1 1.045)">10</text>
<text transform="translate(1162.9 795.3) scale(1 1.045)">20</text>
</g>
<text x="672.2" y="831" font-size="30">Log2FoldChange</text>
<text transform="translate(26 543.8) rotate(-90)" font-size="30">-Log10 adjusted p−value</text>
<text x="1.8" y="17.6" font-size="34.4">a</text>
</g>
<g id="panel-b">
<line x1="708.4" y1="1729.9" x2="708.4" y2="934.3" stroke="#000" stroke-width="4.4" stroke-dasharray="18.275 18.275"/>
<path d="M1281.8 933.25L1296.26 958.3L1267.34 958.3Z" fill="#FF9232"/>
<path d="M1281.8 958.72L1296.26 983.77L1267.34 983.77Z" fill="#FF9232"/>
<circle cx="307.3" cy="1000.89" r="10.8" fill="#FF9232"/>
<path d="M1265.6 984.19L1280.06 1009.24L1251.14 1009.24Z" fill="#FF9232"/>
<circle cx="281.3" cy="1026.36" r="10.8" fill="#9E0089"/>
<circle cx="164.7" cy="1051.83" r="10.8" fill="#9E0089"/>
<path d="M1162.2 1035.13L1176.66 1060.18L1147.74 1060.18Z" fill="#9E0089"/>
<path d="M1121.3 1060.6L1135.76 1085.65L1106.84 1085.65Z" fill="#9E0089"/>
<path d="M1226.2 1086.07L1240.66 1111.12L1211.74 1111.12Z" fill="#9E0089"/>
<path d="M1217.3 1111.54L1231.76 1136.59L1202.84 1136.59Z" fill="#9E0089"/>
<path d="M1193.6 1137.01L1208.06 1162.06L1179.14 1162.06Z" fill="#9E0089"/>
<path d="M1206.2 1187.95L1220.66 1213L1191.74 1213Z" fill="#0070B2"/>
<path d="M1216.7 1213.42L1231.16 1238.47L1202.24 1238.47Z" fill="#0070B2"/>
<path d="M1216.7 1238.89L1231.16 1263.94L1202.24 1263.94Z" fill="#0070B2"/>
<path d="M1141.6 1264.36L1156.06 1289.41L1127.14 1289.41Z" fill="#0070B2"/>
<circle cx="290.3" cy="1306.53" r="10.8" fill="#00A85A"/>
<path d="M1182 1289.83L1196.46 1314.88L1167.54 1314.88Z" fill="#00A85A"/>
<circle cx="312" cy="1332" r="10.8" fill="#00A85A"/>
<path d="M1143.3 1315.3L1157.76 1340.35L1128.84 1340.35Z" fill="#00A85A"/>
<circle cx="297.4" cy="1357.47" r="10.8" fill="#00A85A"/>
<path d="M1133.3 1340.77L1147.76 1365.82L1118.84 1365.82Z" fill="#00A85A"/>
<circle cx="320" cy="1382.94" r="10.8" fill="#00A85A"/>
<path d="M1170.7 1366.24L1185.16 1391.29L1156.24 1391.29Z" fill="#00A85A"/>
<path d="M1182.2 1391.71L1196.66 1416.76L1167.74 1416.76Z" fill="#00A85A"/>
<path d="M1167.8 1417.18L1182.26 1442.23L1153.34 1442.23Z" fill="#00A85A"/>
<circle cx="214" cy="1459.35" r="10.8" fill="#00A85A"/>
<path d="M1145.6 1442.65L1160.06 1467.7L1131.14 1467.7Z" fill="#00A85A"/>
<circle cx="274" cy="1484.82" r="10.8" fill="#00A85A"/>
<path d="M1202.2 1468.12L1216.66 1493.17L1187.74 1493.17Z" fill="#00A85A"/>
<circle cx="248.8" cy="1510.29" r="10.8" fill="#00A85A"/>
<circle cx="228.9" cy="1535.76" r="10.8" fill="#00A85A"/>
<path d="M1132.7 1519.06L1147.16 1544.11L1118.24 1544.11Z" fill="#00A85A"/>
<circle cx="312" cy="1561.23" r="10.8" fill="#FF9FEF"/>
<path d="M1222.9 1544.53L1237.36 1569.58L1208.44 1569.58Z" fill="#FF9FEF"/>
<path d="M1155.8 1570L1170.26 1595.05L1141.34 1595.05Z" fill="#FF9FEF"/>
<path d="M1156.2 1595.47L1170.66 1620.52L1141.74 1620.52Z" fill="#FF9FEF"/>
<circle cx="242" cy="1637.64" r="10.8" fill="#5A5108"/>
<path d="M1293.6 1620.94L1308.06 1645.99L1279.14 1645.99Z" fill="#5A5108"/>
<path d="M1161.6 1646.41L1176.06 1671.46L1147.14 1671.46Z" fill="#5A5108"/>
<circle cx="272.2" cy="1688.58" r="10.8" fill="#5A5108"/>
<path d="M1235.8 1671.88L1250.26 1696.93L1221.34 1696.93Z" fill="#5A5108"/>
<path d="M1224.2 1697.35L1238.66 1722.4L1209.74 1722.4Z" fill="#5A5108"/>
<path d="M108.5 934.3V1729.4H1350" fill="none" stroke="#000" stroke-width="4.4" stroke-linejoin="miter"/>
<rect x="103.8" y="947.4" width="2.6" height="4.4" fill="#333333"/>
<rect x="103.8" y="972.87" width="2.6" height="4.4" fill="#333333"/>
<rect x="103.8" y="998.34" width="2.6" height="4.4" fill="#333333"/>
<rect x="103.8" y="1023.81" width="2.6" height="4.4" fill="#333333"/>
<rect x="103.8" y="1049.28" width="2.6" height="4.4" fill="#333333"/>
<rect x="103.8" y="1074.75" width="2.6" height="4.4" fill="#333333"/>
<rect x="103.8" y="1100.22" width="2.6" height="4.4" fill="#333333"/>
<rect x="103.8" y="1125.69" width="2.6" height="4.4" fill="#333333"/>
<rect x="103.8" y="1151.16" width="2.6" height="4.4" fill="#333333"/>
<rect x="103.8" y="1176.63" width="2.6" height="4.4" fill="#333333"/>
<rect x="103.8" y="1202.1" width="2.6" height="4.4" fill="#333333"/>
<rect x="103.8" y="1227.57" width="2.6" height="4.4" fill="#333333"/>
<rect x="103.8" y="1253.04" width="2.6" height="4.4" fill="#333333"/>
<rect x="103.8" y="1278.51" width="2.6" height="4.4" fill="#333333"/>
<rect x="103.8" y="1303.98" width="2.6" height="4.4" fill="#333333"/>
<rect x="103.8" y="1329.45" width="2.6" height="4.4" fill="#333333"/>
<rect x="103.8" y="1354.92" width="2.6" height="4.4" fill="#333333"/>
<rect x="103.8" y="1380.39" width="2.6" height="4.4" fill="#333333"/>
<rect x="103.8" y="1405.86" width="2.6" height="4.4" fill="#333333"/>
<rect x="103.8" y="1431.33" width="2.6" height="4.4" fill="#333333"/>
<rect x="103.8" y="1456.8" width="2.6" height="4.4" fill="#333333"/>
<rect x="103.8" y="1482.27" width="2.6" height="4.4" fill="#333333"/>
<rect x="103.8" y="1507.74" width="2.6" height="4.4" fill="#333333"/>
<rect x="103.8" y="1533.21" width="2.6" height="4.4" fill="#333333"/>
<rect x="103.8" y="1558.68" width="2.6" height="4.4" fill="#333333"/>
<rect x="103.8" y="1584.15" width="2.6" height="4.4" fill="#333333"/>
<rect x="103.8" y="1609.62" width="2.6" height="4.4" fill="#333333"/>
<rect x="103.8" y="1635.09" width="2.6" height="4.4" fill="#333333"/>
<rect x="103.8" y="1660.56" width="2.6" height="4.4" fill="#333333"/>
<rect x="103.8" y="1686.03" width="2.6" height="4.4" fill="#333333"/>
<rect x="103.8" y="1711.5" width="2.6" height="4.4" fill="#333333"/>
<rect x="125" y="1731.4" width="4.4" height="2.2" fill="#333333"/>
<rect x="415.55" y="1731.4" width="4.4" height="2.2" fill="#333333"/>
<rect x="706.1" y="1731.4" width="4.4" height="2.2" fill="#333333"/>
<rect x="996.65" y="1731.4" width="4.4" height="2.2" fill="#333333"/>
<rect x="1287.2" y="1731.4" width="4.4" height="2.2" fill="#333333"/>
<g font-size="25.4" fill="#4D4D4D" text-anchor="end">
<text x="100.6" y="954.6"><tspan font-style="italic">amo</tspan>A1</text>
<text x="100.6" y="980.07"><tspan font-style="italic">amo</tspan>B1</text>
<text x="100.6" y="1005.54"><tspan font-style="italic">nif</tspan>D</text>
<text x="100.6" y="1031.01"><tspan font-style="italic">fcc</tspan>B</text>
<text x="100.6" y="1056.48"><tspan font-style="italic">dsv</tspan>A</text>
<text x="100.6" y="1081.95"><tspan font-style="italic">dsv</tspan>B</text>
<text x="100.6" y="1107.42"><tspan font-style="italic">qrc</tspan>D</text>
<text x="100.6" y="1132.89"><tspan font-style="italic">qrc</tspan>C</text>
<text x="100.6" y="1158.36"><tspan font-style="italic">qrc</tspan>B</text>
<text x="100.6" y="1183.83"><tspan font-style="italic">pmo</tspan>A1</text>
<text x="100.6" y="1209.3"><tspan font-style="italic">fdh</tspan>A</text>
<text x="100.6" y="1234.77"><tspan font-style="italic">fdh</tspan>B</text>
<text x="100.6" y="1260.24"><tspan font-style="italic">coo</tspan>S</text>
<text x="100.6" y="1285.71"><tspan font-style="italic">acs</tspan>C</text>
<text x="100.6" y="1311.18"><tspan font-style="italic">atp</tspan>H</text>
<text x="100.6" y="1336.65"><tspan font-style="italic">atp</tspan>G</text>
<text x="100.6" y="1362.12"><tspan font-style="italic">atp</tspan>F</text>
<text x="100.6" y="1387.59"><tspan font-style="italic">atp</tspan>E</text>
<text x="100.6" y="1413.06"><tspan font-style="italic">atp</tspan>C</text>
<text x="100.6" y="1438.53"><tspan font-style="italic">atp</tspan>A</text>
<text x="100.6" y="1464"><tspan font-style="italic">psa</tspan>D</text>
<text x="100.6" y="1489.47"><tspan font-style="italic">psb</tspan>V</text>
<text x="100.6" y="1514.94"><tspan font-style="italic">psa</tspan>L</text>
<text x="100.6" y="1540.41"><tspan font-style="italic">psa</tspan>E</text>
<text x="100.6" y="1565.88"><tspan font-style="italic">hsp</tspan>A</text>
<text x="100.6" y="1591.35"><tspan font-style="italic">dna</tspan>K</text>
<text x="100.6" y="1616.82"><tspan font-style="italic">gro</tspan>S</text>
<text x="100.6" y="1642.29"><tspan font-style="italic">hup</tspan></text>
<text x="100.6" y="1667.76"><tspan font-style="italic">rpo</tspan>A</text>
<text x="100.6" y="1693.23"><tspan font-style="italic">hup</tspan>B</text>
<text x="100.6" y="1718.7"><tspan font-style="italic">rec</tspan>A</text>
</g>
<g font-size="25.7" fill="#4D4D4D" text-anchor="start">
<text transform="translate(114.9 1760.7) scale(1 1.045)">−6</text>
<text transform="translate(405.2 1760.7) scale(1 1.045)">−3</text>
<text transform="translate(699.5 1760.7) scale(1 1.045)">0</text>
<text transform="translate(990.8 1760.7) scale(1 1.045)">3</text>
<text transform="translate(1280.8 1760.7) scale(1 1.045)">6</text>
</g>
<text x="642.3" y="1792.3" font-size="30">Log2FoldChange</text>
<text transform="translate(26 1332.1) rotate(-90)" font-size="30">Gene</text>
<text x="-1.9" y="921.6" font-size="34.4">b</text>
<text x="516.0" y="960.4" font-size="29.6">Control bay</text>
<text x="739.0" y="960.4" font-size="29.6">Heated bay</text>
</g>
<g id="legend">
<text x="0" y="1847" font-size="25.5">Group</text>
<g font-size="25.7">
<circle cx="15" cy="1880.3" r="15.4" fill="#00A85A"/>
<text x="45.9" y="1890.6">Photosynthesis</text>
<circle cx="15" cy="1931.45" r="15.4" fill="#FF9232"/>
<text x="45.9" y="1941.75">Nitrogen metabolism</text>
<circle cx="388.55" cy="1880.3" r="15.4" fill="#9E0089"/>
<text x="420.9" y="1890.6">Sulfur metabolism</text>
<circle cx="388.55" cy="1931.45" r="15.4" fill="#0070B2"/>
<text x="420.2" y="1941.75">Methane metabolism</text>
<circle cx="770.1" cy="1880.3" r="15.4" fill="#FF9FEF"/>
<text x="801.9" y="1890.6">Chaperones</text>
<circle cx="770.1" cy="1931.45" r="15.4" fill="#5A5108"/>
<text x="801.3" y="1941.75">Repair and recombination</text>
</g>
<text x="0" y="2024.6" font-size="30">Bay</text>
<circle cx="87.5" cy="2013" r="13.8" fill="none" stroke="#000" stroke-width="4"/>
<text x="112.7" y="2024.6" font-size="25.45">Control Bay</text>
<path d="M321.4 2000.3L340.11 2032.7L302.69 2032.7Z" fill="none" stroke="#000" stroke-width="4.35" stroke-linejoin="miter"/>
<text x="351.2" y="2024.6" font-size="25.45">Heated Bay</text>
</g>
</svg>
</body></html>
